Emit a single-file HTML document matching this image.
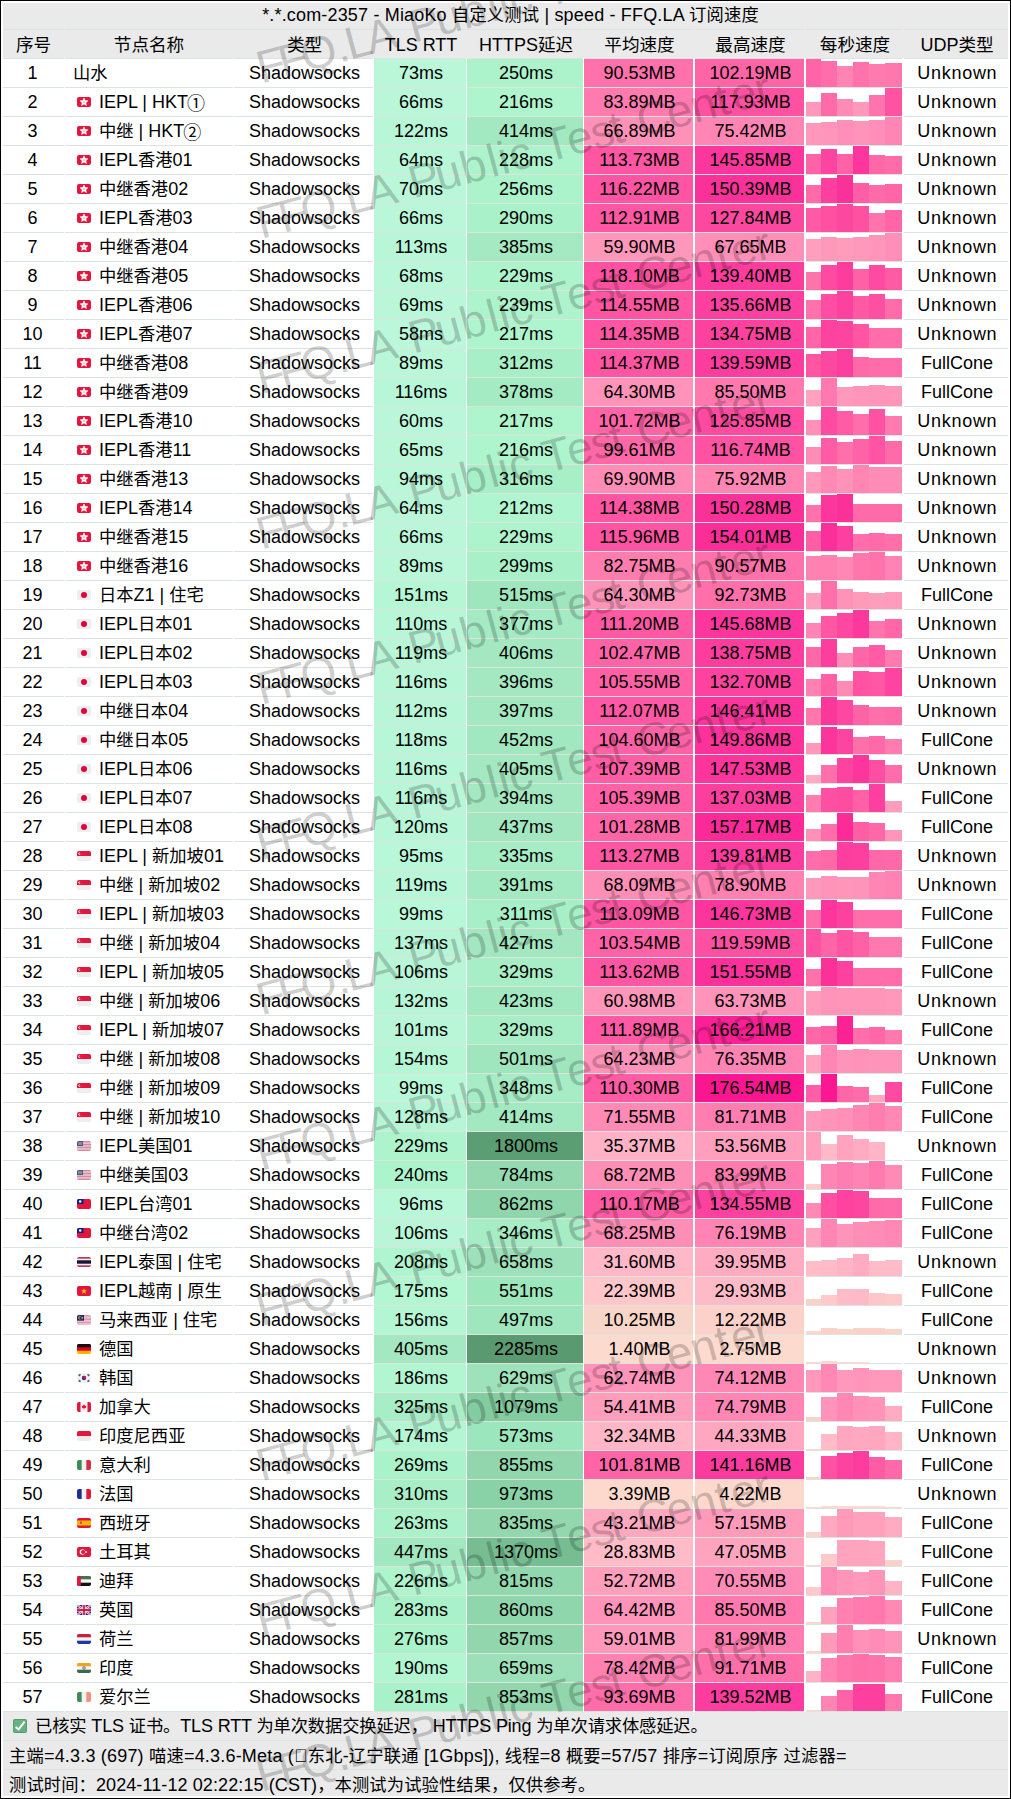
<!DOCTYPE html>
<html><head><meta charset="utf-8"><title>speed</title>
<style>
html,body{margin:0;padding:0;background:#fff}
body{width:1011px;height:1799px;position:relative;overflow:hidden;font-family:"Liberation Sans","Noto Sans CJK SC",sans-serif;font-size:18px;color:#000}
.a{position:absolute}
.t{position:absolute;white-space:nowrap;line-height:28px;height:28px;text-align:center}
.l{position:absolute;height:1px;background:#dce4dd}
.fl{position:absolute;border-radius:2px}
.c{font-size:17.3px}
.hd .c{font-size:17.6px}
.cn{font-size:18px;position:relative;top:2px;margin-left:-1px}
</style></head><body>

<div class="a" style="left:0;top:0;width:1011px;height:1799px;background:#000"></div>
<div class="a" style="left:1px;top:1px;width:1009px;height:1797px;background:#fff"></div>
<div class="a" style="left:3px;top:3px;width:1005px;height:55px;background:#eaeaea"></div>
<div class="l" style="left:3px;top:29px;width:61px"></div>
<div class="l" style="left:65px;top:29px;width:168px"></div>
<div class="l" style="left:234px;top:29px;width:139px"></div>
<div class="l" style="left:374px;top:29px;width:92px"></div>
<div class="l" style="left:467px;top:29px;width:116px"></div>
<div class="l" style="left:584px;top:29px;width:109px"></div>
<div class="l" style="left:695px;top:29px;width:109px"></div>
<div class="l" style="left:806px;top:29px;width:96px"></div>
<div class="l" style="left:904px;top:29px;width:104px"></div>
<div class="t" style="left:3px;top:1px;width:1005px;padding-left:10px;box-sizing:border-box;letter-spacing:0.17px">*.*.com-2357 - MiaoKo <span class="c">自定义测试</span> | speed - FFQ.LA <span class="c">订阅速度</span></div>
<div class="t hd" style="left:3px;top:31px;width:61px"><span class="c">序号</span></div>
<div class="t hd" style="left:65px;top:31px;width:168px"><span class="c">节点名称</span></div>
<div class="t hd" style="left:235px;top:31px;width:139px"><span class="c">类型</span></div>
<div class="t hd" style="left:375px;top:31px;width:92px">TLS RTT</div>
<div class="t hd" style="left:468px;top:31px;width:116px">HTTPS<span class="c">延迟</span></div>
<div class="t hd" style="left:585px;top:31px;width:109px"><span class="c">平均速度</span></div>
<div class="t hd" style="left:696px;top:31px;width:109px"><span class="c">最高速度</span></div>
<div class="t hd" style="left:807px;top:31px;width:96px"><span class="c">每秒速度</span></div>
<div class="t hd" style="left:905px;top:31px;width:104px">UDP<span class="c">类型</span></div>
<div class="l" style="left:3px;top:58px;width:61px"></div>
<div class="l" style="left:65px;top:58px;width:168px"></div>
<div class="l" style="left:234px;top:58px;width:139px"></div>
<div class="l" style="left:374px;top:58px;width:92px"></div>
<div class="l" style="left:467px;top:58px;width:116px"></div>
<div class="l" style="left:584px;top:58px;width:109px"></div>
<div class="l" style="left:695px;top:58px;width:109px"></div>
<div class="l" style="left:806px;top:58px;width:96px"></div>
<div class="l" style="left:904px;top:58px;width:104px"></div>
<div class="a" style="left:374px;top:59px;width:92px;height:28px;background:#baf7d9"></div>
<div class="a" style="left:467px;top:59px;width:116px;height:28px;background:#acf3cc"></div>
<div class="a" style="left:584px;top:59px;width:109px;height:28px;background:#ff71ab"></div>
<div class="a" style="left:695px;top:59px;width:109px;height:28px;background:#ff64a7"></div>
<div class="a" style="left:806px;top:59px;width:15px;height:28px;background:#ff64a7"></div>
<div class="a" style="left:821px;top:61px;width:16px;height:26px;background:#ff6daa"></div>
<div class="a" style="left:837px;top:66px;width:16px;height:21px;background:#ff84b3"></div>
<div class="a" style="left:853px;top:62px;width:16px;height:25px;background:#ff72ab"></div>
<div class="a" style="left:869px;top:64px;width:16px;height:23px;background:#ff7aae"></div>
<div class="a" style="left:885px;top:63px;width:17px;height:24px;background:#ff78ad"></div>
<div class="l" style="left:3px;top:87px;width:61px"></div>
<div class="l" style="left:65px;top:87px;width:168px"></div>
<div class="l" style="left:234px;top:87px;width:139px"></div>
<div class="l" style="left:374px;top:87px;width:92px"></div>
<div class="l" style="left:467px;top:87px;width:116px"></div>
<div class="l" style="left:584px;top:87px;width:109px"></div>
<div class="l" style="left:695px;top:87px;width:109px"></div>
<div class="l" style="left:806px;top:87px;width:96px"></div>
<div class="l" style="left:904px;top:87px;width:104px"></div>
<div class="t" style="left:2px;top:59px;width:61px">1</div>
<div class="t" style="left:73px;top:59px;text-align:left"><span class="c">山水</span></div>
<div class="t" style="left:235px;top:59px;width:139px">Shadowsocks</div>
<div class="t" style="left:375px;top:59px;width:92px">73ms</div>
<div class="t" style="left:468px;top:59px;width:116px">250ms</div>
<div class="t" style="left:585px;top:59px;width:109px">90.53MB</div>
<div class="t" style="left:696px;top:59px;width:109px">102.19MB</div>
<div class="t" style="left:905px;top:59px;width:104px;letter-spacing:0.7px;text-indent:0.7px">Unknown</div>
<div class="a" style="left:374px;top:88px;width:92px;height:28px;background:#baf7d9"></div>
<div class="a" style="left:467px;top:88px;width:116px;height:28px;background:#aef5ce"></div>
<div class="a" style="left:584px;top:88px;width:109px;height:28px;background:#ff7aaf"></div>
<div class="a" style="left:695px;top:88px;width:109px;height:28px;background:#ff51a2"></div>
<div class="a" style="left:806px;top:102px;width:15px;height:14px;background:#ff97ba"></div>
<div class="a" style="left:821px;top:93px;width:16px;height:23px;background:#ff6aa9"></div>
<div class="a" style="left:837px;top:99px;width:16px;height:17px;background:#ff8ab6"></div>
<div class="a" style="left:853px;top:102px;width:16px;height:14px;background:#ff98bb"></div>
<div class="a" style="left:869px;top:95px;width:16px;height:21px;background:#ff74ac"></div>
<div class="a" style="left:885px;top:88px;width:17px;height:28px;background:#ff52a3"></div>
<div class="l" style="left:3px;top:116px;width:61px"></div>
<div class="l" style="left:65px;top:116px;width:168px"></div>
<div class="l" style="left:234px;top:116px;width:139px"></div>
<div class="l" style="left:374px;top:116px;width:92px"></div>
<div class="l" style="left:467px;top:116px;width:116px"></div>
<div class="l" style="left:584px;top:116px;width:109px"></div>
<div class="l" style="left:695px;top:116px;width:109px"></div>
<div class="l" style="left:806px;top:116px;width:96px"></div>
<div class="l" style="left:904px;top:116px;width:104px"></div>
<div class="t" style="left:2px;top:88px;width:61px">2</div>
<div class="fl" style="left:77px;top:97px;width:14px;height:10px;overflow:hidden"><svg width="14" height="10" viewBox="0 0 14 10" style="display:block"><rect width="14" height="10" fill="#e3173e"/><polygon points="7.00,1.00 8.12,3.56 10.90,3.83 8.81,5.69 9.41,8.42 7.00,7.00 4.59,8.42 5.19,5.69 3.10,3.83 5.88,3.56" fill="#fff" stroke="#fff" stroke-width="0.6" stroke-linejoin="round"/><circle cx="7" cy="5.1" r="0.9" fill="#f4a0a0"/></svg></div>
<div class="t" style="left:99px;top:88px;text-align:left">IEPL | HKT<span class="cn">①</span></div>
<div class="t" style="left:235px;top:88px;width:139px">Shadowsocks</div>
<div class="t" style="left:375px;top:88px;width:92px">66ms</div>
<div class="t" style="left:468px;top:88px;width:116px">216ms</div>
<div class="t" style="left:585px;top:88px;width:109px">83.89MB</div>
<div class="t" style="left:696px;top:88px;width:109px">117.93MB</div>
<div class="t" style="left:905px;top:88px;width:104px;letter-spacing:0.7px;text-indent:0.7px">Unknown</div>
<div class="a" style="left:374px;top:117px;width:92px;height:28px;background:#b7f6d6"></div>
<div class="a" style="left:467px;top:117px;width:116px;height:28px;background:#a2e8c1"></div>
<div class="a" style="left:584px;top:117px;width:109px;height:28px;background:#ff90b8"></div>
<div class="a" style="left:695px;top:117px;width:109px;height:28px;background:#ff85b4"></div>
<div class="a" style="left:806px;top:123px;width:15px;height:22px;background:#ff98bb"></div>
<div class="a" style="left:821px;top:122px;width:16px;height:23px;background:#ff95ba"></div>
<div class="a" style="left:837px;top:120px;width:16px;height:25px;background:#ff8fb8"></div>
<div class="a" style="left:853px;top:121px;width:16px;height:24px;background:#ff93b9"></div>
<div class="a" style="left:869px;top:120px;width:16px;height:25px;background:#ff8fb8"></div>
<div class="a" style="left:885px;top:117px;width:17px;height:28px;background:#ff85b4"></div>
<div class="l" style="left:3px;top:145px;width:61px"></div>
<div class="l" style="left:65px;top:145px;width:168px"></div>
<div class="l" style="left:234px;top:145px;width:139px"></div>
<div class="l" style="left:374px;top:145px;width:92px"></div>
<div class="l" style="left:467px;top:145px;width:116px"></div>
<div class="l" style="left:584px;top:145px;width:109px"></div>
<div class="l" style="left:695px;top:145px;width:109px"></div>
<div class="l" style="left:806px;top:145px;width:96px"></div>
<div class="l" style="left:904px;top:145px;width:104px"></div>
<div class="t" style="left:2px;top:117px;width:61px">3</div>
<div class="fl" style="left:77px;top:126px;width:14px;height:10px;overflow:hidden"><svg width="14" height="10" viewBox="0 0 14 10" style="display:block"><rect width="14" height="10" fill="#e3173e"/><polygon points="7.00,1.00 8.12,3.56 10.90,3.83 8.81,5.69 9.41,8.42 7.00,7.00 4.59,8.42 5.19,5.69 3.10,3.83 5.88,3.56" fill="#fff" stroke="#fff" stroke-width="0.6" stroke-linejoin="round"/><circle cx="7" cy="5.1" r="0.9" fill="#f4a0a0"/></svg></div>
<div class="t" style="left:99px;top:117px;text-align:left"><span class="c">中继</span> | HKT<span class="cn">②</span></div>
<div class="t" style="left:235px;top:117px;width:139px">Shadowsocks</div>
<div class="t" style="left:375px;top:117px;width:92px">122ms</div>
<div class="t" style="left:468px;top:117px;width:116px">414ms</div>
<div class="t" style="left:585px;top:117px;width:109px">66.89MB</div>
<div class="t" style="left:696px;top:117px;width:109px">75.42MB</div>
<div class="t" style="left:905px;top:117px;width:104px;letter-spacing:0.7px;text-indent:0.7px">Unknown</div>
<div class="a" style="left:374px;top:146px;width:92px;height:28px;background:#baf7d9"></div>
<div class="a" style="left:467px;top:146px;width:116px;height:28px;background:#adf4cd"></div>
<div class="a" style="left:584px;top:146px;width:109px;height:28px;background:#ff56a3"></div>
<div class="a" style="left:695px;top:146px;width:109px;height:28px;background:#fc369c"></div>
<div class="a" style="left:806px;top:154px;width:15px;height:20px;background:#ff62a7"></div>
<div class="a" style="left:821px;top:149px;width:16px;height:25px;background:#fd44a0"></div>
<div class="a" style="left:837px;top:154px;width:16px;height:20px;background:#ff62a7"></div>
<div class="a" style="left:853px;top:146px;width:16px;height:28px;background:#fc369c"></div>
<div class="a" style="left:869px;top:155px;width:16px;height:19px;background:#ff67a8"></div>
<div class="a" style="left:885px;top:156px;width:17px;height:18px;background:#ff6ca9"></div>
<div class="l" style="left:3px;top:174px;width:61px"></div>
<div class="l" style="left:65px;top:174px;width:168px"></div>
<div class="l" style="left:234px;top:174px;width:139px"></div>
<div class="l" style="left:374px;top:174px;width:92px"></div>
<div class="l" style="left:467px;top:174px;width:116px"></div>
<div class="l" style="left:584px;top:174px;width:109px"></div>
<div class="l" style="left:695px;top:174px;width:109px"></div>
<div class="l" style="left:806px;top:174px;width:96px"></div>
<div class="l" style="left:904px;top:174px;width:104px"></div>
<div class="t" style="left:2px;top:146px;width:61px">4</div>
<div class="fl" style="left:77px;top:155px;width:14px;height:10px;overflow:hidden"><svg width="14" height="10" viewBox="0 0 14 10" style="display:block"><rect width="14" height="10" fill="#e3173e"/><polygon points="7.00,1.00 8.12,3.56 10.90,3.83 8.81,5.69 9.41,8.42 7.00,7.00 4.59,8.42 5.19,5.69 3.10,3.83 5.88,3.56" fill="#fff" stroke="#fff" stroke-width="0.6" stroke-linejoin="round"/><circle cx="7" cy="5.1" r="0.9" fill="#f4a0a0"/></svg></div>
<div class="t" style="left:99px;top:146px;text-align:left">IEPL<span class="c">香港</span>01</div>
<div class="t" style="left:235px;top:146px;width:139px">Shadowsocks</div>
<div class="t" style="left:375px;top:146px;width:92px">64ms</div>
<div class="t" style="left:468px;top:146px;width:116px">228ms</div>
<div class="t" style="left:585px;top:146px;width:109px">113.73MB</div>
<div class="t" style="left:696px;top:146px;width:109px">145.85MB</div>
<div class="t" style="left:905px;top:146px;width:104px;letter-spacing:0.7px;text-indent:0.7px">Unknown</div>
<div class="a" style="left:374px;top:175px;width:92px;height:28px;background:#baf7d9"></div>
<div class="a" style="left:467px;top:175px;width:116px;height:28px;background:#abf3cb"></div>
<div class="a" style="left:584px;top:175px;width:109px;height:28px;background:#ff53a3"></div>
<div class="a" style="left:695px;top:175px;width:109px;height:28px;background:#fb319a"></div>
<div class="a" style="left:806px;top:185px;width:15px;height:18px;background:#ff6ba9"></div>
<div class="a" style="left:821px;top:178px;width:16px;height:25px;background:#fd409f"></div>
<div class="a" style="left:837px;top:175px;width:16px;height:28px;background:#fb319a"></div>
<div class="a" style="left:853px;top:183px;width:16px;height:20px;background:#ff5ea6"></div>
<div class="a" style="left:869px;top:185px;width:16px;height:18px;background:#ff6ba9"></div>
<div class="a" style="left:885px;top:184px;width:17px;height:19px;background:#ff65a7"></div>
<div class="l" style="left:3px;top:203px;width:61px"></div>
<div class="l" style="left:65px;top:203px;width:168px"></div>
<div class="l" style="left:234px;top:203px;width:139px"></div>
<div class="l" style="left:374px;top:203px;width:92px"></div>
<div class="l" style="left:467px;top:203px;width:116px"></div>
<div class="l" style="left:584px;top:203px;width:109px"></div>
<div class="l" style="left:695px;top:203px;width:109px"></div>
<div class="l" style="left:806px;top:203px;width:96px"></div>
<div class="l" style="left:904px;top:203px;width:104px"></div>
<div class="t" style="left:2px;top:175px;width:61px">5</div>
<div class="fl" style="left:77px;top:184px;width:14px;height:10px;overflow:hidden"><svg width="14" height="10" viewBox="0 0 14 10" style="display:block"><rect width="14" height="10" fill="#e3173e"/><polygon points="7.00,1.00 8.12,3.56 10.90,3.83 8.81,5.69 9.41,8.42 7.00,7.00 4.59,8.42 5.19,5.69 3.10,3.83 5.88,3.56" fill="#fff" stroke="#fff" stroke-width="0.6" stroke-linejoin="round"/><circle cx="7" cy="5.1" r="0.9" fill="#f4a0a0"/></svg></div>
<div class="t" style="left:99px;top:175px;text-align:left"><span class="c">中继香港</span>02</div>
<div class="t" style="left:235px;top:175px;width:139px">Shadowsocks</div>
<div class="t" style="left:375px;top:175px;width:92px">70ms</div>
<div class="t" style="left:468px;top:175px;width:116px">256ms</div>
<div class="t" style="left:585px;top:175px;width:109px">116.22MB</div>
<div class="t" style="left:696px;top:175px;width:109px">150.39MB</div>
<div class="t" style="left:905px;top:175px;width:104px;letter-spacing:0.7px;text-indent:0.7px">Unknown</div>
<div class="a" style="left:374px;top:204px;width:92px;height:28px;background:#baf7d9"></div>
<div class="a" style="left:467px;top:204px;width:116px;height:28px;background:#a9f1c9"></div>
<div class="a" style="left:584px;top:204px;width:109px;height:28px;background:#ff57a4"></div>
<div class="a" style="left:695px;top:204px;width:109px;height:28px;background:#fd48a0"></div>
<div class="a" style="left:806px;top:208px;width:15px;height:24px;background:#ff5aa5"></div>
<div class="a" style="left:821px;top:206px;width:16px;height:26px;background:#ff50a2"></div>
<div class="a" style="left:837px;top:204px;width:16px;height:28px;background:#fd48a0"></div>
<div class="a" style="left:853px;top:206px;width:16px;height:26px;background:#ff51a2"></div>
<div class="a" style="left:869px;top:213px;width:16px;height:19px;background:#ff74ac"></div>
<div class="a" style="left:885px;top:210px;width:17px;height:22px;background:#ff65a7"></div>
<div class="l" style="left:3px;top:232px;width:61px"></div>
<div class="l" style="left:65px;top:232px;width:168px"></div>
<div class="l" style="left:234px;top:232px;width:139px"></div>
<div class="l" style="left:374px;top:232px;width:92px"></div>
<div class="l" style="left:467px;top:232px;width:116px"></div>
<div class="l" style="left:584px;top:232px;width:109px"></div>
<div class="l" style="left:695px;top:232px;width:109px"></div>
<div class="l" style="left:806px;top:232px;width:96px"></div>
<div class="l" style="left:904px;top:232px;width:104px"></div>
<div class="t" style="left:2px;top:204px;width:61px">6</div>
<div class="fl" style="left:77px;top:213px;width:14px;height:10px;overflow:hidden"><svg width="14" height="10" viewBox="0 0 14 10" style="display:block"><rect width="14" height="10" fill="#e3173e"/><polygon points="7.00,1.00 8.12,3.56 10.90,3.83 8.81,5.69 9.41,8.42 7.00,7.00 4.59,8.42 5.19,5.69 3.10,3.83 5.88,3.56" fill="#fff" stroke="#fff" stroke-width="0.6" stroke-linejoin="round"/><circle cx="7" cy="5.1" r="0.9" fill="#f4a0a0"/></svg></div>
<div class="t" style="left:99px;top:204px;text-align:left">IEPL<span class="c">香港</span>03</div>
<div class="t" style="left:235px;top:204px;width:139px">Shadowsocks</div>
<div class="t" style="left:375px;top:204px;width:92px">66ms</div>
<div class="t" style="left:468px;top:204px;width:116px">290ms</div>
<div class="t" style="left:585px;top:204px;width:109px">112.91MB</div>
<div class="t" style="left:696px;top:204px;width:109px">127.84MB</div>
<div class="t" style="left:905px;top:204px;width:104px;letter-spacing:0.7px;text-indent:0.7px">Unknown</div>
<div class="a" style="left:374px;top:233px;width:92px;height:28px;background:#b7f6d7"></div>
<div class="a" style="left:467px;top:233px;width:116px;height:28px;background:#a4e9c2"></div>
<div class="a" style="left:584px;top:233px;width:109px;height:28px;background:#ff97bb"></div>
<div class="a" style="left:695px;top:233px;width:109px;height:28px;background:#ff8fb8"></div>
<div class="a" style="left:806px;top:239px;width:15px;height:22px;background:#ff9ebd"></div>
<div class="a" style="left:821px;top:237px;width:16px;height:24px;background:#ff99bb"></div>
<div class="a" style="left:837px;top:238px;width:16px;height:23px;background:#ff9cbc"></div>
<div class="a" style="left:853px;top:237px;width:16px;height:24px;background:#ff99bb"></div>
<div class="a" style="left:869px;top:235px;width:16px;height:26px;background:#ff95ba"></div>
<div class="a" style="left:885px;top:233px;width:17px;height:28px;background:#ff8fb8"></div>
<div class="l" style="left:3px;top:261px;width:61px"></div>
<div class="l" style="left:65px;top:261px;width:168px"></div>
<div class="l" style="left:234px;top:261px;width:139px"></div>
<div class="l" style="left:374px;top:261px;width:92px"></div>
<div class="l" style="left:467px;top:261px;width:116px"></div>
<div class="l" style="left:584px;top:261px;width:109px"></div>
<div class="l" style="left:695px;top:261px;width:109px"></div>
<div class="l" style="left:806px;top:261px;width:96px"></div>
<div class="l" style="left:904px;top:261px;width:104px"></div>
<div class="t" style="left:2px;top:233px;width:61px">7</div>
<div class="fl" style="left:77px;top:242px;width:14px;height:10px;overflow:hidden"><svg width="14" height="10" viewBox="0 0 14 10" style="display:block"><rect width="14" height="10" fill="#e3173e"/><polygon points="7.00,1.00 8.12,3.56 10.90,3.83 8.81,5.69 9.41,8.42 7.00,7.00 4.59,8.42 5.19,5.69 3.10,3.83 5.88,3.56" fill="#fff" stroke="#fff" stroke-width="0.6" stroke-linejoin="round"/><circle cx="7" cy="5.1" r="0.9" fill="#f4a0a0"/></svg></div>
<div class="t" style="left:99px;top:233px;text-align:left"><span class="c">中继香港</span>04</div>
<div class="t" style="left:235px;top:233px;width:139px">Shadowsocks</div>
<div class="t" style="left:375px;top:233px;width:92px">113ms</div>
<div class="t" style="left:468px;top:233px;width:116px">385ms</div>
<div class="t" style="left:585px;top:233px;width:109px">59.90MB</div>
<div class="t" style="left:696px;top:233px;width:109px">67.65MB</div>
<div class="t" style="left:905px;top:233px;width:104px;letter-spacing:0.7px;text-indent:0.7px">Unknown</div>
<div class="a" style="left:374px;top:262px;width:92px;height:28px;background:#baf7d9"></div>
<div class="a" style="left:467px;top:262px;width:116px;height:28px;background:#adf4cd"></div>
<div class="a" style="left:584px;top:262px;width:109px;height:28px;background:#ff51a2"></div>
<div class="a" style="left:695px;top:262px;width:109px;height:28px;background:#fc3d9e"></div>
<div class="a" style="left:806px;top:272px;width:15px;height:18px;background:#ff73ab"></div>
<div class="a" style="left:821px;top:265px;width:16px;height:25px;background:#fe4ba1"></div>
<div class="a" style="left:837px;top:262px;width:16px;height:28px;background:#fc3d9e"></div>
<div class="a" style="left:853px;top:269px;width:16px;height:21px;background:#ff61a6"></div>
<div class="a" style="left:869px;top:265px;width:16px;height:25px;background:#fe4aa1"></div>
<div class="a" style="left:885px;top:268px;width:17px;height:22px;background:#ff5aa4"></div>
<div class="l" style="left:3px;top:290px;width:61px"></div>
<div class="l" style="left:65px;top:290px;width:168px"></div>
<div class="l" style="left:234px;top:290px;width:139px"></div>
<div class="l" style="left:374px;top:290px;width:92px"></div>
<div class="l" style="left:467px;top:290px;width:116px"></div>
<div class="l" style="left:584px;top:290px;width:109px"></div>
<div class="l" style="left:695px;top:290px;width:109px"></div>
<div class="l" style="left:806px;top:290px;width:96px"></div>
<div class="l" style="left:904px;top:290px;width:104px"></div>
<div class="t" style="left:2px;top:262px;width:61px">8</div>
<div class="fl" style="left:77px;top:271px;width:14px;height:10px;overflow:hidden"><svg width="14" height="10" viewBox="0 0 14 10" style="display:block"><rect width="14" height="10" fill="#e3173e"/><polygon points="7.00,1.00 8.12,3.56 10.90,3.83 8.81,5.69 9.41,8.42 7.00,7.00 4.59,8.42 5.19,5.69 3.10,3.83 5.88,3.56" fill="#fff" stroke="#fff" stroke-width="0.6" stroke-linejoin="round"/><circle cx="7" cy="5.1" r="0.9" fill="#f4a0a0"/></svg></div>
<div class="t" style="left:99px;top:262px;text-align:left"><span class="c">中继香港</span>05</div>
<div class="t" style="left:235px;top:262px;width:139px">Shadowsocks</div>
<div class="t" style="left:375px;top:262px;width:92px">68ms</div>
<div class="t" style="left:468px;top:262px;width:116px">229ms</div>
<div class="t" style="left:585px;top:262px;width:109px">118.10MB</div>
<div class="t" style="left:696px;top:262px;width:109px">139.40MB</div>
<div class="t" style="left:905px;top:262px;width:104px;letter-spacing:0.7px;text-indent:0.7px">Unknown</div>
<div class="a" style="left:374px;top:291px;width:92px;height:28px;background:#baf7d9"></div>
<div class="a" style="left:467px;top:291px;width:116px;height:28px;background:#adf4cd"></div>
<div class="a" style="left:584px;top:291px;width:109px;height:28px;background:#ff55a3"></div>
<div class="a" style="left:695px;top:291px;width:109px;height:28px;background:#fd409f"></div>
<div class="a" style="left:806px;top:300px;width:15px;height:19px;background:#ff71ab"></div>
<div class="a" style="left:821px;top:294px;width:16px;height:25px;background:#fe4da2"></div>
<div class="a" style="left:837px;top:291px;width:16px;height:28px;background:#fd419f"></div>
<div class="a" style="left:853px;top:296px;width:16px;height:23px;background:#ff59a4"></div>
<div class="a" style="left:869px;top:294px;width:16px;height:25px;background:#fe50a2"></div>
<div class="a" style="left:885px;top:299px;width:17px;height:20px;background:#ff6ca9"></div>
<div class="l" style="left:3px;top:319px;width:61px"></div>
<div class="l" style="left:65px;top:319px;width:168px"></div>
<div class="l" style="left:234px;top:319px;width:139px"></div>
<div class="l" style="left:374px;top:319px;width:92px"></div>
<div class="l" style="left:467px;top:319px;width:116px"></div>
<div class="l" style="left:584px;top:319px;width:109px"></div>
<div class="l" style="left:695px;top:319px;width:109px"></div>
<div class="l" style="left:806px;top:319px;width:96px"></div>
<div class="l" style="left:904px;top:319px;width:104px"></div>
<div class="t" style="left:2px;top:291px;width:61px">9</div>
<div class="fl" style="left:77px;top:300px;width:14px;height:10px;overflow:hidden"><svg width="14" height="10" viewBox="0 0 14 10" style="display:block"><rect width="14" height="10" fill="#e3173e"/><polygon points="7.00,1.00 8.12,3.56 10.90,3.83 8.81,5.69 9.41,8.42 7.00,7.00 4.59,8.42 5.19,5.69 3.10,3.83 5.88,3.56" fill="#fff" stroke="#fff" stroke-width="0.6" stroke-linejoin="round"/><circle cx="7" cy="5.1" r="0.9" fill="#f4a0a0"/></svg></div>
<div class="t" style="left:99px;top:291px;text-align:left">IEPL<span class="c">香港</span>06</div>
<div class="t" style="left:235px;top:291px;width:139px">Shadowsocks</div>
<div class="t" style="left:375px;top:291px;width:92px">69ms</div>
<div class="t" style="left:468px;top:291px;width:116px">239ms</div>
<div class="t" style="left:585px;top:291px;width:109px">114.55MB</div>
<div class="t" style="left:696px;top:291px;width:109px">135.66MB</div>
<div class="t" style="left:905px;top:291px;width:104px;letter-spacing:0.7px;text-indent:0.7px">Unknown</div>
<div class="a" style="left:374px;top:320px;width:92px;height:28px;background:#bbf7da"></div>
<div class="a" style="left:467px;top:320px;width:116px;height:28px;background:#aef5ce"></div>
<div class="a" style="left:584px;top:320px;width:109px;height:28px;background:#ff55a3"></div>
<div class="a" style="left:695px;top:320px;width:109px;height:28px;background:#fd419f"></div>
<div class="a" style="left:806px;top:327px;width:15px;height:21px;background:#ff65a7"></div>
<div class="a" style="left:821px;top:320px;width:16px;height:28px;background:#fd429f"></div>
<div class="a" style="left:837px;top:321px;width:16px;height:27px;background:#fd45a0"></div>
<div class="a" style="left:853px;top:324px;width:16px;height:24px;background:#ff55a3"></div>
<div class="a" style="left:869px;top:328px;width:16px;height:20px;background:#ff6daa"></div>
<div class="a" style="left:885px;top:328px;width:17px;height:20px;background:#ff6daa"></div>
<div class="l" style="left:3px;top:348px;width:61px"></div>
<div class="l" style="left:65px;top:348px;width:168px"></div>
<div class="l" style="left:234px;top:348px;width:139px"></div>
<div class="l" style="left:374px;top:348px;width:92px"></div>
<div class="l" style="left:467px;top:348px;width:116px"></div>
<div class="l" style="left:584px;top:348px;width:109px"></div>
<div class="l" style="left:695px;top:348px;width:109px"></div>
<div class="l" style="left:806px;top:348px;width:96px"></div>
<div class="l" style="left:904px;top:348px;width:104px"></div>
<div class="t" style="left:2px;top:320px;width:61px">10</div>
<div class="fl" style="left:77px;top:329px;width:14px;height:10px;overflow:hidden"><svg width="14" height="10" viewBox="0 0 14 10" style="display:block"><rect width="14" height="10" fill="#e3173e"/><polygon points="7.00,1.00 8.12,3.56 10.90,3.83 8.81,5.69 9.41,8.42 7.00,7.00 4.59,8.42 5.19,5.69 3.10,3.83 5.88,3.56" fill="#fff" stroke="#fff" stroke-width="0.6" stroke-linejoin="round"/><circle cx="7" cy="5.1" r="0.9" fill="#f4a0a0"/></svg></div>
<div class="t" style="left:99px;top:320px;text-align:left">IEPL<span class="c">香港</span>07</div>
<div class="t" style="left:235px;top:320px;width:139px">Shadowsocks</div>
<div class="t" style="left:375px;top:320px;width:92px">58ms</div>
<div class="t" style="left:468px;top:320px;width:116px">217ms</div>
<div class="t" style="left:585px;top:320px;width:109px">114.35MB</div>
<div class="t" style="left:696px;top:320px;width:109px">134.75MB</div>
<div class="t" style="left:905px;top:320px;width:104px;letter-spacing:0.7px;text-indent:0.7px">Unknown</div>
<div class="a" style="left:374px;top:349px;width:92px;height:28px;background:#b9f7d8"></div>
<div class="a" style="left:467px;top:349px;width:116px;height:28px;background:#a7efc7"></div>
<div class="a" style="left:584px;top:349px;width:109px;height:28px;background:#ff55a3"></div>
<div class="a" style="left:695px;top:349px;width:109px;height:28px;background:#fc3c9e"></div>
<div class="a" style="left:806px;top:354px;width:15px;height:23px;background:#ff55a3"></div>
<div class="a" style="left:821px;top:351px;width:16px;height:26px;background:#fd47a0"></div>
<div class="a" style="left:837px;top:349px;width:16px;height:28px;background:#fc3e9e"></div>
<div class="a" style="left:853px;top:357px;width:16px;height:20px;background:#ff69a8"></div>
<div class="a" style="left:869px;top:358px;width:16px;height:19px;background:#ff6ca9"></div>
<div class="a" style="left:885px;top:358px;width:17px;height:19px;background:#ff6ca9"></div>
<div class="l" style="left:3px;top:377px;width:61px"></div>
<div class="l" style="left:65px;top:377px;width:168px"></div>
<div class="l" style="left:234px;top:377px;width:139px"></div>
<div class="l" style="left:374px;top:377px;width:92px"></div>
<div class="l" style="left:467px;top:377px;width:116px"></div>
<div class="l" style="left:584px;top:377px;width:109px"></div>
<div class="l" style="left:695px;top:377px;width:109px"></div>
<div class="l" style="left:806px;top:377px;width:96px"></div>
<div class="l" style="left:904px;top:377px;width:104px"></div>
<div class="t" style="left:2px;top:349px;width:61px">11</div>
<div class="fl" style="left:77px;top:358px;width:14px;height:10px;overflow:hidden"><svg width="14" height="10" viewBox="0 0 14 10" style="display:block"><rect width="14" height="10" fill="#e3173e"/><polygon points="7.00,1.00 8.12,3.56 10.90,3.83 8.81,5.69 9.41,8.42 7.00,7.00 4.59,8.42 5.19,5.69 3.10,3.83 5.88,3.56" fill="#fff" stroke="#fff" stroke-width="0.6" stroke-linejoin="round"/><circle cx="7" cy="5.1" r="0.9" fill="#f4a0a0"/></svg></div>
<div class="t" style="left:99px;top:349px;text-align:left"><span class="c">中继香港</span>08</div>
<div class="t" style="left:235px;top:349px;width:139px">Shadowsocks</div>
<div class="t" style="left:375px;top:349px;width:92px">89ms</div>
<div class="t" style="left:468px;top:349px;width:116px">312ms</div>
<div class="t" style="left:585px;top:349px;width:109px">114.37MB</div>
<div class="t" style="left:696px;top:349px;width:109px">139.59MB</div>
<div class="t" style="left:905px;top:349px;width:104px">FullCone</div>
<div class="a" style="left:374px;top:378px;width:92px;height:28px;background:#b7f6d7"></div>
<div class="a" style="left:467px;top:378px;width:116px;height:28px;background:#a4eac3"></div>
<div class="a" style="left:584px;top:378px;width:109px;height:28px;background:#ff93b9"></div>
<div class="a" style="left:695px;top:378px;width:109px;height:28px;background:#ff78ae"></div>
<div class="a" style="left:806px;top:390px;width:15px;height:16px;background:#ffa2be"></div>
<div class="a" style="left:821px;top:378px;width:16px;height:28px;background:#ff79ae"></div>
<div class="a" style="left:837px;top:387px;width:16px;height:19px;background:#ff99bb"></div>
<div class="a" style="left:853px;top:386px;width:16px;height:20px;background:#ff96ba"></div>
<div class="a" style="left:869px;top:385px;width:16px;height:21px;background:#ff94ba"></div>
<div class="a" style="left:885px;top:386px;width:17px;height:20px;background:#ff96ba"></div>
<div class="l" style="left:3px;top:406px;width:61px"></div>
<div class="l" style="left:65px;top:406px;width:168px"></div>
<div class="l" style="left:234px;top:406px;width:139px"></div>
<div class="l" style="left:374px;top:406px;width:92px"></div>
<div class="l" style="left:467px;top:406px;width:116px"></div>
<div class="l" style="left:584px;top:406px;width:109px"></div>
<div class="l" style="left:695px;top:406px;width:109px"></div>
<div class="l" style="left:806px;top:406px;width:96px"></div>
<div class="l" style="left:904px;top:406px;width:104px"></div>
<div class="t" style="left:2px;top:378px;width:61px">12</div>
<div class="fl" style="left:77px;top:387px;width:14px;height:10px;overflow:hidden"><svg width="14" height="10" viewBox="0 0 14 10" style="display:block"><rect width="14" height="10" fill="#e3173e"/><polygon points="7.00,1.00 8.12,3.56 10.90,3.83 8.81,5.69 9.41,8.42 7.00,7.00 4.59,8.42 5.19,5.69 3.10,3.83 5.88,3.56" fill="#fff" stroke="#fff" stroke-width="0.6" stroke-linejoin="round"/><circle cx="7" cy="5.1" r="0.9" fill="#f4a0a0"/></svg></div>
<div class="t" style="left:99px;top:378px;text-align:left"><span class="c">中继香港</span>09</div>
<div class="t" style="left:235px;top:378px;width:139px">Shadowsocks</div>
<div class="t" style="left:375px;top:378px;width:92px">116ms</div>
<div class="t" style="left:468px;top:378px;width:116px">378ms</div>
<div class="t" style="left:585px;top:378px;width:109px">64.30MB</div>
<div class="t" style="left:696px;top:378px;width:109px">85.50MB</div>
<div class="t" style="left:905px;top:378px;width:104px">FullCone</div>
<div class="a" style="left:374px;top:407px;width:92px;height:28px;background:#baf7da"></div>
<div class="a" style="left:467px;top:407px;width:116px;height:28px;background:#aef5ce"></div>
<div class="a" style="left:584px;top:407px;width:109px;height:28px;background:#ff64a7"></div>
<div class="a" style="left:695px;top:407px;width:109px;height:28px;background:#fe4aa1"></div>
<div class="a" style="left:806px;top:420px;width:15px;height:15px;background:#ff91b9"></div>
<div class="a" style="left:821px;top:407px;width:16px;height:28px;background:#fe4ba1"></div>
<div class="a" style="left:837px;top:411px;width:16px;height:24px;background:#ff5ca5"></div>
<div class="a" style="left:853px;top:414px;width:16px;height:21px;background:#ff6eaa"></div>
<div class="a" style="left:869px;top:409px;width:16px;height:26px;background:#ff52a3"></div>
<div class="a" style="left:885px;top:416px;width:17px;height:19px;background:#ff7aae"></div>
<div class="l" style="left:3px;top:435px;width:61px"></div>
<div class="l" style="left:65px;top:435px;width:168px"></div>
<div class="l" style="left:234px;top:435px;width:139px"></div>
<div class="l" style="left:374px;top:435px;width:92px"></div>
<div class="l" style="left:467px;top:435px;width:116px"></div>
<div class="l" style="left:584px;top:435px;width:109px"></div>
<div class="l" style="left:695px;top:435px;width:109px"></div>
<div class="l" style="left:806px;top:435px;width:96px"></div>
<div class="l" style="left:904px;top:435px;width:104px"></div>
<div class="t" style="left:2px;top:407px;width:61px">13</div>
<div class="fl" style="left:77px;top:416px;width:14px;height:10px;overflow:hidden"><svg width="14" height="10" viewBox="0 0 14 10" style="display:block"><rect width="14" height="10" fill="#e3173e"/><polygon points="7.00,1.00 8.12,3.56 10.90,3.83 8.81,5.69 9.41,8.42 7.00,7.00 4.59,8.42 5.19,5.69 3.10,3.83 5.88,3.56" fill="#fff" stroke="#fff" stroke-width="0.6" stroke-linejoin="round"/><circle cx="7" cy="5.1" r="0.9" fill="#f4a0a0"/></svg></div>
<div class="t" style="left:99px;top:407px;text-align:left">IEPL<span class="c">香港</span>10</div>
<div class="t" style="left:235px;top:407px;width:139px">Shadowsocks</div>
<div class="t" style="left:375px;top:407px;width:92px">60ms</div>
<div class="t" style="left:468px;top:407px;width:116px">217ms</div>
<div class="t" style="left:585px;top:407px;width:109px">101.72MB</div>
<div class="t" style="left:696px;top:407px;width:109px">125.85MB</div>
<div class="t" style="left:905px;top:407px;width:104px;letter-spacing:0.7px;text-indent:0.7px">Unknown</div>
<div class="a" style="left:374px;top:436px;width:92px;height:28px;background:#baf7d9"></div>
<div class="a" style="left:467px;top:436px;width:116px;height:28px;background:#aef5ce"></div>
<div class="a" style="left:584px;top:436px;width:109px;height:28px;background:#ff67a8"></div>
<div class="a" style="left:695px;top:436px;width:109px;height:28px;background:#ff52a3"></div>
<div class="a" style="left:806px;top:447px;width:15px;height:17px;background:#ff8cb6"></div>
<div class="a" style="left:821px;top:438px;width:16px;height:26px;background:#ff5ca5"></div>
<div class="a" style="left:837px;top:442px;width:16px;height:22px;background:#ff6faa"></div>
<div class="a" style="left:853px;top:439px;width:16px;height:25px;background:#ff63a7"></div>
<div class="a" style="left:869px;top:436px;width:16px;height:28px;background:#ff53a3"></div>
<div class="a" style="left:885px;top:441px;width:17px;height:23px;background:#ff6ba9"></div>
<div class="l" style="left:3px;top:464px;width:61px"></div>
<div class="l" style="left:65px;top:464px;width:168px"></div>
<div class="l" style="left:234px;top:464px;width:139px"></div>
<div class="l" style="left:374px;top:464px;width:92px"></div>
<div class="l" style="left:467px;top:464px;width:116px"></div>
<div class="l" style="left:584px;top:464px;width:109px"></div>
<div class="l" style="left:695px;top:464px;width:109px"></div>
<div class="l" style="left:806px;top:464px;width:96px"></div>
<div class="l" style="left:904px;top:464px;width:104px"></div>
<div class="t" style="left:2px;top:436px;width:61px">14</div>
<div class="fl" style="left:77px;top:445px;width:14px;height:10px;overflow:hidden"><svg width="14" height="10" viewBox="0 0 14 10" style="display:block"><rect width="14" height="10" fill="#e3173e"/><polygon points="7.00,1.00 8.12,3.56 10.90,3.83 8.81,5.69 9.41,8.42 7.00,7.00 4.59,8.42 5.19,5.69 3.10,3.83 5.88,3.56" fill="#fff" stroke="#fff" stroke-width="0.6" stroke-linejoin="round"/><circle cx="7" cy="5.1" r="0.9" fill="#f4a0a0"/></svg></div>
<div class="t" style="left:99px;top:436px;text-align:left">IEPL<span class="c">香港</span>11</div>
<div class="t" style="left:235px;top:436px;width:139px">Shadowsocks</div>
<div class="t" style="left:375px;top:436px;width:92px">65ms</div>
<div class="t" style="left:468px;top:436px;width:116px">216ms</div>
<div class="t" style="left:585px;top:436px;width:109px">99.61MB</div>
<div class="t" style="left:696px;top:436px;width:109px">116.74MB</div>
<div class="t" style="left:905px;top:436px;width:104px;letter-spacing:0.7px;text-indent:0.7px">Unknown</div>
<div class="a" style="left:374px;top:465px;width:92px;height:28px;background:#b8f7d8"></div>
<div class="a" style="left:467px;top:465px;width:116px;height:28px;background:#a7efc7"></div>
<div class="a" style="left:584px;top:465px;width:109px;height:28px;background:#ff8cb7"></div>
<div class="a" style="left:695px;top:465px;width:109px;height:28px;background:#ff85b3"></div>
<div class="a" style="left:806px;top:472px;width:15px;height:21px;background:#ff99bb"></div>
<div class="a" style="left:821px;top:466px;width:16px;height:27px;background:#ff89b5"></div>
<div class="a" style="left:837px;top:469px;width:16px;height:24px;background:#ff92b9"></div>
<div class="a" style="left:853px;top:465px;width:16px;height:28px;background:#ff85b3"></div>
<div class="a" style="left:869px;top:467px;width:16px;height:26px;background:#ff8cb7"></div>
<div class="a" style="left:885px;top:467px;width:17px;height:26px;background:#ff8cb7"></div>
<div class="l" style="left:3px;top:493px;width:61px"></div>
<div class="l" style="left:65px;top:493px;width:168px"></div>
<div class="l" style="left:234px;top:493px;width:139px"></div>
<div class="l" style="left:374px;top:493px;width:92px"></div>
<div class="l" style="left:467px;top:493px;width:116px"></div>
<div class="l" style="left:584px;top:493px;width:109px"></div>
<div class="l" style="left:695px;top:493px;width:109px"></div>
<div class="l" style="left:806px;top:493px;width:96px"></div>
<div class="l" style="left:904px;top:493px;width:104px"></div>
<div class="t" style="left:2px;top:465px;width:61px">15</div>
<div class="fl" style="left:77px;top:474px;width:14px;height:10px;overflow:hidden"><svg width="14" height="10" viewBox="0 0 14 10" style="display:block"><rect width="14" height="10" fill="#e3173e"/><polygon points="7.00,1.00 8.12,3.56 10.90,3.83 8.81,5.69 9.41,8.42 7.00,7.00 4.59,8.42 5.19,5.69 3.10,3.83 5.88,3.56" fill="#fff" stroke="#fff" stroke-width="0.6" stroke-linejoin="round"/><circle cx="7" cy="5.1" r="0.9" fill="#f4a0a0"/></svg></div>
<div class="t" style="left:99px;top:465px;text-align:left"><span class="c">中继香港</span>13</div>
<div class="t" style="left:235px;top:465px;width:139px">Shadowsocks</div>
<div class="t" style="left:375px;top:465px;width:92px">94ms</div>
<div class="t" style="left:468px;top:465px;width:116px">316ms</div>
<div class="t" style="left:585px;top:465px;width:109px">69.90MB</div>
<div class="t" style="left:696px;top:465px;width:109px">75.92MB</div>
<div class="t" style="left:905px;top:465px;width:104px;letter-spacing:0.7px;text-indent:0.7px">Unknown</div>
<div class="a" style="left:374px;top:494px;width:92px;height:28px;background:#baf7d9"></div>
<div class="a" style="left:467px;top:494px;width:116px;height:28px;background:#aff5cf"></div>
<div class="a" style="left:584px;top:494px;width:109px;height:28px;background:#ff55a3"></div>
<div class="a" style="left:695px;top:494px;width:109px;height:28px;background:#fb319a"></div>
<div class="a" style="left:806px;top:505px;width:15px;height:17px;background:#ff72ab"></div>
<div class="a" style="left:821px;top:495px;width:16px;height:27px;background:#fc369c"></div>
<div class="a" style="left:837px;top:494px;width:16px;height:28px;background:#fb319a"></div>
<div class="a" style="left:853px;top:504px;width:16px;height:18px;background:#ff6ba9"></div>
<div class="a" style="left:869px;top:504px;width:16px;height:18px;background:#ff6ba9"></div>
<div class="a" style="left:885px;top:504px;width:17px;height:18px;background:#ff6ba9"></div>
<div class="l" style="left:3px;top:522px;width:61px"></div>
<div class="l" style="left:65px;top:522px;width:168px"></div>
<div class="l" style="left:234px;top:522px;width:139px"></div>
<div class="l" style="left:374px;top:522px;width:92px"></div>
<div class="l" style="left:467px;top:522px;width:116px"></div>
<div class="l" style="left:584px;top:522px;width:109px"></div>
<div class="l" style="left:695px;top:522px;width:109px"></div>
<div class="l" style="left:806px;top:522px;width:96px"></div>
<div class="l" style="left:904px;top:522px;width:104px"></div>
<div class="t" style="left:2px;top:494px;width:61px">16</div>
<div class="fl" style="left:77px;top:503px;width:14px;height:10px;overflow:hidden"><svg width="14" height="10" viewBox="0 0 14 10" style="display:block"><rect width="14" height="10" fill="#e3173e"/><polygon points="7.00,1.00 8.12,3.56 10.90,3.83 8.81,5.69 9.41,8.42 7.00,7.00 4.59,8.42 5.19,5.69 3.10,3.83 5.88,3.56" fill="#fff" stroke="#fff" stroke-width="0.6" stroke-linejoin="round"/><circle cx="7" cy="5.1" r="0.9" fill="#f4a0a0"/></svg></div>
<div class="t" style="left:99px;top:494px;text-align:left">IEPL<span class="c">香港</span>14</div>
<div class="t" style="left:235px;top:494px;width:139px">Shadowsocks</div>
<div class="t" style="left:375px;top:494px;width:92px">64ms</div>
<div class="t" style="left:468px;top:494px;width:116px">212ms</div>
<div class="t" style="left:585px;top:494px;width:109px">114.38MB</div>
<div class="t" style="left:696px;top:494px;width:109px">150.28MB</div>
<div class="t" style="left:905px;top:494px;width:104px;letter-spacing:0.7px;text-indent:0.7px">Unknown</div>
<div class="a" style="left:374px;top:523px;width:92px;height:28px;background:#baf7d9"></div>
<div class="a" style="left:467px;top:523px;width:116px;height:28px;background:#adf4cd"></div>
<div class="a" style="left:584px;top:523px;width:109px;height:28px;background:#ff53a3"></div>
<div class="a" style="left:695px;top:523px;width:109px;height:28px;background:#fb2d99"></div>
<div class="a" style="left:806px;top:531px;width:15px;height:20px;background:#ff5da5"></div>
<div class="a" style="left:821px;top:523px;width:16px;height:28px;background:#fb2f99"></div>
<div class="a" style="left:837px;top:526px;width:16px;height:25px;background:#fd409f"></div>
<div class="a" style="left:853px;top:534px;width:16px;height:17px;background:#ff6daa"></div>
<div class="a" style="left:869px;top:533px;width:16px;height:18px;background:#ff6aa9"></div>
<div class="a" style="left:885px;top:534px;width:17px;height:17px;background:#ff6faa"></div>
<div class="l" style="left:3px;top:551px;width:61px"></div>
<div class="l" style="left:65px;top:551px;width:168px"></div>
<div class="l" style="left:234px;top:551px;width:139px"></div>
<div class="l" style="left:374px;top:551px;width:92px"></div>
<div class="l" style="left:467px;top:551px;width:116px"></div>
<div class="l" style="left:584px;top:551px;width:109px"></div>
<div class="l" style="left:695px;top:551px;width:109px"></div>
<div class="l" style="left:806px;top:551px;width:96px"></div>
<div class="l" style="left:904px;top:551px;width:104px"></div>
<div class="t" style="left:2px;top:523px;width:61px">17</div>
<div class="fl" style="left:77px;top:532px;width:14px;height:10px;overflow:hidden"><svg width="14" height="10" viewBox="0 0 14 10" style="display:block"><rect width="14" height="10" fill="#e3173e"/><polygon points="7.00,1.00 8.12,3.56 10.90,3.83 8.81,5.69 9.41,8.42 7.00,7.00 4.59,8.42 5.19,5.69 3.10,3.83 5.88,3.56" fill="#fff" stroke="#fff" stroke-width="0.6" stroke-linejoin="round"/><circle cx="7" cy="5.1" r="0.9" fill="#f4a0a0"/></svg></div>
<div class="t" style="left:99px;top:523px;text-align:left"><span class="c">中继香港</span>15</div>
<div class="t" style="left:235px;top:523px;width:139px">Shadowsocks</div>
<div class="t" style="left:375px;top:523px;width:92px">66ms</div>
<div class="t" style="left:468px;top:523px;width:116px">229ms</div>
<div class="t" style="left:585px;top:523px;width:109px">115.96MB</div>
<div class="t" style="left:696px;top:523px;width:109px">154.01MB</div>
<div class="t" style="left:905px;top:523px;width:104px;letter-spacing:0.7px;text-indent:0.7px">Unknown</div>
<div class="a" style="left:374px;top:552px;width:92px;height:28px;background:#b9f7d8"></div>
<div class="a" style="left:467px;top:552px;width:116px;height:28px;background:#a8f0c8"></div>
<div class="a" style="left:584px;top:552px;width:109px;height:28px;background:#ff7caf"></div>
<div class="a" style="left:695px;top:552px;width:109px;height:28px;background:#ff71ab"></div>
<div class="a" style="left:806px;top:556px;width:15px;height:24px;background:#ff82b2"></div>
<div class="a" style="left:821px;top:555px;width:16px;height:25px;background:#ff80b1"></div>
<div class="a" style="left:837px;top:557px;width:16px;height:23px;background:#ff87b4"></div>
<div class="a" style="left:853px;top:553px;width:16px;height:27px;background:#ff76ad"></div>
<div class="a" style="left:869px;top:552px;width:16px;height:28px;background:#ff72ab"></div>
<div class="a" style="left:885px;top:556px;width:17px;height:24px;background:#ff83b3"></div>
<div class="l" style="left:3px;top:580px;width:61px"></div>
<div class="l" style="left:65px;top:580px;width:168px"></div>
<div class="l" style="left:234px;top:580px;width:139px"></div>
<div class="l" style="left:374px;top:580px;width:92px"></div>
<div class="l" style="left:467px;top:580px;width:116px"></div>
<div class="l" style="left:584px;top:580px;width:109px"></div>
<div class="l" style="left:695px;top:580px;width:109px"></div>
<div class="l" style="left:806px;top:580px;width:96px"></div>
<div class="l" style="left:904px;top:580px;width:104px"></div>
<div class="t" style="left:2px;top:552px;width:61px">18</div>
<div class="fl" style="left:77px;top:561px;width:14px;height:10px;overflow:hidden"><svg width="14" height="10" viewBox="0 0 14 10" style="display:block"><rect width="14" height="10" fill="#e3173e"/><polygon points="7.00,1.00 8.12,3.56 10.90,3.83 8.81,5.69 9.41,8.42 7.00,7.00 4.59,8.42 5.19,5.69 3.10,3.83 5.88,3.56" fill="#fff" stroke="#fff" stroke-width="0.6" stroke-linejoin="round"/><circle cx="7" cy="5.1" r="0.9" fill="#f4a0a0"/></svg></div>
<div class="t" style="left:99px;top:552px;text-align:left"><span class="c">中继香港</span>16</div>
<div class="t" style="left:235px;top:552px;width:139px">Shadowsocks</div>
<div class="t" style="left:375px;top:552px;width:92px">89ms</div>
<div class="t" style="left:468px;top:552px;width:116px">299ms</div>
<div class="t" style="left:585px;top:552px;width:109px">82.75MB</div>
<div class="t" style="left:696px;top:552px;width:109px">90.57MB</div>
<div class="t" style="left:905px;top:552px;width:104px;letter-spacing:0.7px;text-indent:0.7px">Unknown</div>
<div class="a" style="left:374px;top:581px;width:92px;height:28px;background:#b5f6d5"></div>
<div class="a" style="left:467px;top:581px;width:116px;height:28px;background:#9ee6be"></div>
<div class="a" style="left:584px;top:581px;width:109px;height:28px;background:#ff93b9"></div>
<div class="a" style="left:695px;top:581px;width:109px;height:28px;background:#ff6faa"></div>
<div class="a" style="left:806px;top:593px;width:15px;height:16px;background:#ff9fbd"></div>
<div class="a" style="left:821px;top:581px;width:16px;height:28px;background:#ff70aa"></div>
<div class="a" style="left:837px;top:589px;width:16px;height:20px;background:#ff92b9"></div>
<div class="a" style="left:853px;top:592px;width:16px;height:17px;background:#ff9abb"></div>
<div class="a" style="left:869px;top:593px;width:16px;height:16px;background:#ff9dbc"></div>
<div class="a" style="left:885px;top:592px;width:17px;height:17px;background:#ff9bbc"></div>
<div class="l" style="left:3px;top:609px;width:61px"></div>
<div class="l" style="left:65px;top:609px;width:168px"></div>
<div class="l" style="left:234px;top:609px;width:139px"></div>
<div class="l" style="left:374px;top:609px;width:92px"></div>
<div class="l" style="left:467px;top:609px;width:116px"></div>
<div class="l" style="left:584px;top:609px;width:109px"></div>
<div class="l" style="left:695px;top:609px;width:109px"></div>
<div class="l" style="left:806px;top:609px;width:96px"></div>
<div class="l" style="left:904px;top:609px;width:104px"></div>
<div class="t" style="left:2px;top:581px;width:61px">19</div>
<div class="fl" style="left:77px;top:590px;width:14px;height:10px;overflow:hidden"><svg width="14" height="10" viewBox="0 0 14 10" style="display:block"><rect width="14" height="10" fill="#eeeeee"/><circle cx="7" cy="5" r="3" fill="#e3003c"/></svg></div>
<div class="t" style="left:99px;top:581px;text-align:left"><span class="c">日本</span>Z1 | <span class="c">住宅</span></div>
<div class="t" style="left:235px;top:581px;width:139px">Shadowsocks</div>
<div class="t" style="left:375px;top:581px;width:92px">151ms</div>
<div class="t" style="left:468px;top:581px;width:116px">515ms</div>
<div class="t" style="left:585px;top:581px;width:109px">64.30MB</div>
<div class="t" style="left:696px;top:581px;width:109px">92.73MB</div>
<div class="t" style="left:905px;top:581px;width:104px">FullCone</div>
<div class="a" style="left:374px;top:610px;width:92px;height:28px;background:#b7f6d7"></div>
<div class="a" style="left:467px;top:610px;width:116px;height:28px;background:#a4eac3"></div>
<div class="a" style="left:584px;top:610px;width:109px;height:28px;background:#ff59a4"></div>
<div class="a" style="left:695px;top:610px;width:109px;height:28px;background:#fc369c"></div>
<div class="a" style="left:806px;top:623px;width:15px;height:15px;background:#ff85b4"></div>
<div class="a" style="left:821px;top:616px;width:16px;height:22px;background:#ff57a4"></div>
<div class="a" style="left:837px;top:613px;width:16px;height:25px;background:#fd47a0"></div>
<div class="a" style="left:853px;top:610px;width:16px;height:28px;background:#fc389c"></div>
<div class="a" style="left:869px;top:621px;width:16px;height:17px;background:#ff74ac"></div>
<div class="a" style="left:885px;top:619px;width:17px;height:19px;background:#ff67a8"></div>
<div class="l" style="left:3px;top:638px;width:61px"></div>
<div class="l" style="left:65px;top:638px;width:168px"></div>
<div class="l" style="left:234px;top:638px;width:139px"></div>
<div class="l" style="left:374px;top:638px;width:92px"></div>
<div class="l" style="left:467px;top:638px;width:116px"></div>
<div class="l" style="left:584px;top:638px;width:109px"></div>
<div class="l" style="left:695px;top:638px;width:109px"></div>
<div class="l" style="left:806px;top:638px;width:96px"></div>
<div class="l" style="left:904px;top:638px;width:104px"></div>
<div class="t" style="left:2px;top:610px;width:61px">20</div>
<div class="fl" style="left:77px;top:619px;width:14px;height:10px;overflow:hidden"><svg width="14" height="10" viewBox="0 0 14 10" style="display:block"><rect width="14" height="10" fill="#eeeeee"/><circle cx="7" cy="5" r="3" fill="#e3003c"/></svg></div>
<div class="t" style="left:99px;top:610px;text-align:left">IEPL<span class="c">日本</span>01</div>
<div class="t" style="left:235px;top:610px;width:139px">Shadowsocks</div>
<div class="t" style="left:375px;top:610px;width:92px">110ms</div>
<div class="t" style="left:468px;top:610px;width:116px">377ms</div>
<div class="t" style="left:585px;top:610px;width:109px">111.20MB</div>
<div class="t" style="left:696px;top:610px;width:109px">145.68MB</div>
<div class="t" style="left:905px;top:610px;width:104px;letter-spacing:0.7px;text-indent:0.7px">Unknown</div>
<div class="a" style="left:374px;top:639px;width:92px;height:28px;background:#b7f6d7"></div>
<div class="a" style="left:467px;top:639px;width:116px;height:28px;background:#a3e8c1"></div>
<div class="a" style="left:584px;top:639px;width:109px;height:28px;background:#ff63a7"></div>
<div class="a" style="left:695px;top:639px;width:109px;height:28px;background:#fc3d9e"></div>
<div class="a" style="left:806px;top:647px;width:15px;height:20px;background:#ff68a8"></div>
<div class="a" style="left:821px;top:639px;width:16px;height:28px;background:#fc3f9f"></div>
<div class="a" style="left:837px;top:653px;width:16px;height:14px;background:#ff8db7"></div>
<div class="a" style="left:853px;top:647px;width:16px;height:20px;background:#ff66a8"></div>
<div class="a" style="left:869px;top:645px;width:16px;height:22px;background:#ff5ca5"></div>
<div class="a" style="left:885px;top:650px;width:17px;height:17px;background:#ff7baf"></div>
<div class="l" style="left:3px;top:667px;width:61px"></div>
<div class="l" style="left:65px;top:667px;width:168px"></div>
<div class="l" style="left:234px;top:667px;width:139px"></div>
<div class="l" style="left:374px;top:667px;width:92px"></div>
<div class="l" style="left:467px;top:667px;width:116px"></div>
<div class="l" style="left:584px;top:667px;width:109px"></div>
<div class="l" style="left:695px;top:667px;width:109px"></div>
<div class="l" style="left:806px;top:667px;width:96px"></div>
<div class="l" style="left:904px;top:667px;width:104px"></div>
<div class="t" style="left:2px;top:639px;width:61px">21</div>
<div class="fl" style="left:77px;top:648px;width:14px;height:10px;overflow:hidden"><svg width="14" height="10" viewBox="0 0 14 10" style="display:block"><rect width="14" height="10" fill="#eeeeee"/><circle cx="7" cy="5" r="3" fill="#e3003c"/></svg></div>
<div class="t" style="left:99px;top:639px;text-align:left">IEPL<span class="c">日本</span>02</div>
<div class="t" style="left:235px;top:639px;width:139px">Shadowsocks</div>
<div class="t" style="left:375px;top:639px;width:92px">119ms</div>
<div class="t" style="left:468px;top:639px;width:116px">406ms</div>
<div class="t" style="left:585px;top:639px;width:109px">102.47MB</div>
<div class="t" style="left:696px;top:639px;width:109px">138.75MB</div>
<div class="t" style="left:905px;top:639px;width:104px;letter-spacing:0.7px;text-indent:0.7px">Unknown</div>
<div class="a" style="left:374px;top:668px;width:92px;height:28px;background:#b7f6d7"></div>
<div class="a" style="left:467px;top:668px;width:116px;height:28px;background:#a3e8c1"></div>
<div class="a" style="left:584px;top:668px;width:109px;height:28px;background:#ff60a6"></div>
<div class="a" style="left:695px;top:668px;width:109px;height:28px;background:#fd439f"></div>
<div class="a" style="left:806px;top:679px;width:15px;height:17px;background:#ff80b1"></div>
<div class="a" style="left:821px;top:674px;width:16px;height:22px;background:#ff61a6"></div>
<div class="a" style="left:837px;top:681px;width:16px;height:15px;background:#ff8ab6"></div>
<div class="a" style="left:853px;top:671px;width:16px;height:25px;background:#ff52a3"></div>
<div class="a" style="left:869px;top:672px;width:16px;height:24px;background:#ff57a4"></div>
<div class="a" style="left:885px;top:668px;width:17px;height:28px;background:#fd44a0"></div>
<div class="l" style="left:3px;top:696px;width:61px"></div>
<div class="l" style="left:65px;top:696px;width:168px"></div>
<div class="l" style="left:234px;top:696px;width:139px"></div>
<div class="l" style="left:374px;top:696px;width:92px"></div>
<div class="l" style="left:467px;top:696px;width:116px"></div>
<div class="l" style="left:584px;top:696px;width:109px"></div>
<div class="l" style="left:695px;top:696px;width:109px"></div>
<div class="l" style="left:806px;top:696px;width:96px"></div>
<div class="l" style="left:904px;top:696px;width:104px"></div>
<div class="t" style="left:2px;top:668px;width:61px">22</div>
<div class="fl" style="left:77px;top:677px;width:14px;height:10px;overflow:hidden"><svg width="14" height="10" viewBox="0 0 14 10" style="display:block"><rect width="14" height="10" fill="#eeeeee"/><circle cx="7" cy="5" r="3" fill="#e3003c"/></svg></div>
<div class="t" style="left:99px;top:668px;text-align:left">IEPL<span class="c">日本</span>03</div>
<div class="t" style="left:235px;top:668px;width:139px">Shadowsocks</div>
<div class="t" style="left:375px;top:668px;width:92px">116ms</div>
<div class="t" style="left:468px;top:668px;width:116px">396ms</div>
<div class="t" style="left:585px;top:668px;width:109px">105.55MB</div>
<div class="t" style="left:696px;top:668px;width:109px">132.70MB</div>
<div class="t" style="left:905px;top:668px;width:104px;letter-spacing:0.7px;text-indent:0.7px">Unknown</div>
<div class="a" style="left:374px;top:697px;width:92px;height:28px;background:#b7f6d7"></div>
<div class="a" style="left:467px;top:697px;width:116px;height:28px;background:#a3e8c1"></div>
<div class="a" style="left:584px;top:697px;width:109px;height:28px;background:#ff58a4"></div>
<div class="a" style="left:695px;top:697px;width:109px;height:28px;background:#fc359c"></div>
<div class="a" style="left:806px;top:708px;width:15px;height:17px;background:#ff77ad"></div>
<div class="a" style="left:821px;top:697px;width:16px;height:28px;background:#fc379c"></div>
<div class="a" style="left:837px;top:700px;width:16px;height:25px;background:#fd47a0"></div>
<div class="a" style="left:853px;top:705px;width:16px;height:20px;background:#ff63a7"></div>
<div class="a" style="left:869px;top:707px;width:16px;height:18px;background:#ff6faa"></div>
<div class="a" style="left:885px;top:707px;width:17px;height:18px;background:#ff6aa9"></div>
<div class="l" style="left:3px;top:725px;width:61px"></div>
<div class="l" style="left:65px;top:725px;width:168px"></div>
<div class="l" style="left:234px;top:725px;width:139px"></div>
<div class="l" style="left:374px;top:725px;width:92px"></div>
<div class="l" style="left:467px;top:725px;width:116px"></div>
<div class="l" style="left:584px;top:725px;width:109px"></div>
<div class="l" style="left:695px;top:725px;width:109px"></div>
<div class="l" style="left:806px;top:725px;width:96px"></div>
<div class="l" style="left:904px;top:725px;width:104px"></div>
<div class="t" style="left:2px;top:697px;width:61px">23</div>
<div class="fl" style="left:77px;top:706px;width:14px;height:10px;overflow:hidden"><svg width="14" height="10" viewBox="0 0 14 10" style="display:block"><rect width="14" height="10" fill="#eeeeee"/><circle cx="7" cy="5" r="3" fill="#e3003c"/></svg></div>
<div class="t" style="left:99px;top:697px;text-align:left"><span class="c">中继日本</span>04</div>
<div class="t" style="left:235px;top:697px;width:139px">Shadowsocks</div>
<div class="t" style="left:375px;top:697px;width:92px">112ms</div>
<div class="t" style="left:468px;top:697px;width:116px">397ms</div>
<div class="t" style="left:585px;top:697px;width:109px">112.07MB</div>
<div class="t" style="left:696px;top:697px;width:109px">146.41MB</div>
<div class="t" style="left:905px;top:697px;width:104px;letter-spacing:0.7px;text-indent:0.7px">Unknown</div>
<div class="a" style="left:374px;top:726px;width:92px;height:28px;background:#b7f6d7"></div>
<div class="a" style="left:467px;top:726px;width:116px;height:28px;background:#a1e7bf"></div>
<div class="a" style="left:584px;top:726px;width:109px;height:28px;background:#ff61a6"></div>
<div class="a" style="left:695px;top:726px;width:109px;height:28px;background:#fb329a"></div>
<div class="a" style="left:806px;top:743px;width:15px;height:11px;background:#ff99bb"></div>
<div class="a" style="left:821px;top:727px;width:16px;height:27px;background:#fc359c"></div>
<div class="a" style="left:837px;top:729px;width:16px;height:25px;background:#fd44a0"></div>
<div class="a" style="left:853px;top:737px;width:16px;height:17px;background:#ff70ab"></div>
<div class="a" style="left:869px;top:736px;width:16px;height:18px;background:#ff69a9"></div>
<div class="a" style="left:885px;top:739px;width:17px;height:15px;background:#ff7cb0"></div>
<div class="l" style="left:3px;top:754px;width:61px"></div>
<div class="l" style="left:65px;top:754px;width:168px"></div>
<div class="l" style="left:234px;top:754px;width:139px"></div>
<div class="l" style="left:374px;top:754px;width:92px"></div>
<div class="l" style="left:467px;top:754px;width:116px"></div>
<div class="l" style="left:584px;top:754px;width:109px"></div>
<div class="l" style="left:695px;top:754px;width:109px"></div>
<div class="l" style="left:806px;top:754px;width:96px"></div>
<div class="l" style="left:904px;top:754px;width:104px"></div>
<div class="t" style="left:2px;top:726px;width:61px">24</div>
<div class="fl" style="left:77px;top:735px;width:14px;height:10px;overflow:hidden"><svg width="14" height="10" viewBox="0 0 14 10" style="display:block"><rect width="14" height="10" fill="#eeeeee"/><circle cx="7" cy="5" r="3" fill="#e3003c"/></svg></div>
<div class="t" style="left:99px;top:726px;text-align:left"><span class="c">中继日本</span>05</div>
<div class="t" style="left:235px;top:726px;width:139px">Shadowsocks</div>
<div class="t" style="left:375px;top:726px;width:92px">118ms</div>
<div class="t" style="left:468px;top:726px;width:116px">452ms</div>
<div class="t" style="left:585px;top:726px;width:109px">104.60MB</div>
<div class="t" style="left:696px;top:726px;width:109px">149.86MB</div>
<div class="t" style="left:905px;top:726px;width:104px">FullCone</div>
<div class="a" style="left:374px;top:755px;width:92px;height:28px;background:#b7f6d7"></div>
<div class="a" style="left:467px;top:755px;width:116px;height:28px;background:#a3e8c1"></div>
<div class="a" style="left:584px;top:755px;width:109px;height:28px;background:#ff5da5"></div>
<div class="a" style="left:695px;top:755px;width:109px;height:28px;background:#fc349b"></div>
<div class="a" style="left:806px;top:775px;width:15px;height:8px;background:#ffabc1"></div>
<div class="a" style="left:821px;top:765px;width:16px;height:18px;background:#ff6faa"></div>
<div class="a" style="left:837px;top:758px;width:16px;height:25px;background:#fd439f"></div>
<div class="a" style="left:853px;top:755px;width:16px;height:28px;background:#fc369c"></div>
<div class="a" style="left:869px;top:760px;width:16px;height:23px;background:#fe4ea2"></div>
<div class="a" style="left:885px;top:765px;width:17px;height:18px;background:#ff6daa"></div>
<div class="l" style="left:3px;top:783px;width:61px"></div>
<div class="l" style="left:65px;top:783px;width:168px"></div>
<div class="l" style="left:234px;top:783px;width:139px"></div>
<div class="l" style="left:374px;top:783px;width:92px"></div>
<div class="l" style="left:467px;top:783px;width:116px"></div>
<div class="l" style="left:584px;top:783px;width:109px"></div>
<div class="l" style="left:695px;top:783px;width:109px"></div>
<div class="l" style="left:806px;top:783px;width:96px"></div>
<div class="l" style="left:904px;top:783px;width:104px"></div>
<div class="t" style="left:2px;top:755px;width:61px">25</div>
<div class="fl" style="left:77px;top:764px;width:14px;height:10px;overflow:hidden"><svg width="14" height="10" viewBox="0 0 14 10" style="display:block"><rect width="14" height="10" fill="#eeeeee"/><circle cx="7" cy="5" r="3" fill="#e3003c"/></svg></div>
<div class="t" style="left:99px;top:755px;text-align:left">IEPL<span class="c">日本</span>06</div>
<div class="t" style="left:235px;top:755px;width:139px">Shadowsocks</div>
<div class="t" style="left:375px;top:755px;width:92px">116ms</div>
<div class="t" style="left:468px;top:755px;width:116px">405ms</div>
<div class="t" style="left:585px;top:755px;width:109px">107.39MB</div>
<div class="t" style="left:696px;top:755px;width:109px">147.53MB</div>
<div class="t" style="left:905px;top:755px;width:104px;letter-spacing:0.7px;text-indent:0.7px">Unknown</div>
<div class="a" style="left:374px;top:784px;width:92px;height:28px;background:#b7f6d7"></div>
<div class="a" style="left:467px;top:784px;width:116px;height:28px;background:#a3e8c1"></div>
<div class="a" style="left:584px;top:784px;width:109px;height:28px;background:#ff60a6"></div>
<div class="a" style="left:695px;top:784px;width:109px;height:28px;background:#fc3f9f"></div>
<div class="a" style="left:806px;top:795px;width:15px;height:17px;background:#ff7cb0"></div>
<div class="a" style="left:821px;top:788px;width:16px;height:24px;background:#fe50a2"></div>
<div class="a" style="left:837px;top:787px;width:16px;height:25px;background:#fe4ca1"></div>
<div class="a" style="left:853px;top:790px;width:16px;height:22px;background:#ff60a6"></div>
<div class="a" style="left:869px;top:784px;width:16px;height:28px;background:#fd409f"></div>
<div class="a" style="left:885px;top:801px;width:17px;height:11px;background:#ff9cbc"></div>
<div class="l" style="left:3px;top:812px;width:61px"></div>
<div class="l" style="left:65px;top:812px;width:168px"></div>
<div class="l" style="left:234px;top:812px;width:139px"></div>
<div class="l" style="left:374px;top:812px;width:92px"></div>
<div class="l" style="left:467px;top:812px;width:116px"></div>
<div class="l" style="left:584px;top:812px;width:109px"></div>
<div class="l" style="left:695px;top:812px;width:109px"></div>
<div class="l" style="left:806px;top:812px;width:96px"></div>
<div class="l" style="left:904px;top:812px;width:104px"></div>
<div class="t" style="left:2px;top:784px;width:61px">26</div>
<div class="fl" style="left:77px;top:793px;width:14px;height:10px;overflow:hidden"><svg width="14" height="10" viewBox="0 0 14 10" style="display:block"><rect width="14" height="10" fill="#eeeeee"/><circle cx="7" cy="5" r="3" fill="#e3003c"/></svg></div>
<div class="t" style="left:99px;top:784px;text-align:left">IEPL<span class="c">日本</span>07</div>
<div class="t" style="left:235px;top:784px;width:139px">Shadowsocks</div>
<div class="t" style="left:375px;top:784px;width:92px">116ms</div>
<div class="t" style="left:468px;top:784px;width:116px">394ms</div>
<div class="t" style="left:585px;top:784px;width:109px">105.39MB</div>
<div class="t" style="left:696px;top:784px;width:109px">137.03MB</div>
<div class="t" style="left:905px;top:784px;width:104px">FullCone</div>
<div class="a" style="left:374px;top:813px;width:92px;height:28px;background:#b7f6d6"></div>
<div class="a" style="left:467px;top:813px;width:116px;height:28px;background:#a2e7c0"></div>
<div class="a" style="left:584px;top:813px;width:109px;height:28px;background:#ff65a7"></div>
<div class="a" style="left:695px;top:813px;width:109px;height:28px;background:#fb2a98"></div>
<div class="a" style="left:806px;top:829px;width:15px;height:12px;background:#ff91b8"></div>
<div class="a" style="left:821px;top:824px;width:16px;height:17px;background:#ff6daa"></div>
<div class="a" style="left:837px;top:813px;width:16px;height:28px;background:#fb2c98"></div>
<div class="a" style="left:853px;top:822px;width:16px;height:19px;background:#ff5ea5"></div>
<div class="a" style="left:869px;top:823px;width:16px;height:18px;background:#ff67a8"></div>
<div class="a" style="left:885px;top:830px;width:17px;height:11px;background:#ff96ba"></div>
<div class="l" style="left:3px;top:841px;width:61px"></div>
<div class="l" style="left:65px;top:841px;width:168px"></div>
<div class="l" style="left:234px;top:841px;width:139px"></div>
<div class="l" style="left:374px;top:841px;width:92px"></div>
<div class="l" style="left:467px;top:841px;width:116px"></div>
<div class="l" style="left:584px;top:841px;width:109px"></div>
<div class="l" style="left:695px;top:841px;width:109px"></div>
<div class="l" style="left:806px;top:841px;width:96px"></div>
<div class="l" style="left:904px;top:841px;width:104px"></div>
<div class="t" style="left:2px;top:813px;width:61px">27</div>
<div class="fl" style="left:77px;top:822px;width:14px;height:10px;overflow:hidden"><svg width="14" height="10" viewBox="0 0 14 10" style="display:block"><rect width="14" height="10" fill="#eeeeee"/><circle cx="7" cy="5" r="3" fill="#e3003c"/></svg></div>
<div class="t" style="left:99px;top:813px;text-align:left">IEPL<span class="c">日本</span>08</div>
<div class="t" style="left:235px;top:813px;width:139px">Shadowsocks</div>
<div class="t" style="left:375px;top:813px;width:92px">120ms</div>
<div class="t" style="left:468px;top:813px;width:116px">437ms</div>
<div class="t" style="left:585px;top:813px;width:109px">101.28MB</div>
<div class="t" style="left:696px;top:813px;width:109px">157.17MB</div>
<div class="t" style="left:905px;top:813px;width:104px">FullCone</div>
<div class="a" style="left:374px;top:842px;width:92px;height:28px;background:#b8f7d8"></div>
<div class="a" style="left:467px;top:842px;width:116px;height:28px;background:#a6edc6"></div>
<div class="a" style="left:584px;top:842px;width:109px;height:28px;background:#ff56a4"></div>
<div class="a" style="left:695px;top:842px;width:109px;height:28px;background:#fc3c9e"></div>
<div class="a" style="left:806px;top:851px;width:15px;height:19px;background:#ff6eaa"></div>
<div class="a" style="left:821px;top:850px;width:16px;height:20px;background:#ff69a8"></div>
<div class="a" style="left:837px;top:842px;width:16px;height:28px;background:#fc3e9e"></div>
<div class="a" style="left:853px;top:843px;width:16px;height:27px;background:#fd409f"></div>
<div class="a" style="left:869px;top:850px;width:16px;height:20px;background:#ff67a8"></div>
<div class="a" style="left:885px;top:850px;width:17px;height:20px;background:#ff69a8"></div>
<div class="l" style="left:3px;top:870px;width:61px"></div>
<div class="l" style="left:65px;top:870px;width:168px"></div>
<div class="l" style="left:234px;top:870px;width:139px"></div>
<div class="l" style="left:374px;top:870px;width:92px"></div>
<div class="l" style="left:467px;top:870px;width:116px"></div>
<div class="l" style="left:584px;top:870px;width:109px"></div>
<div class="l" style="left:695px;top:870px;width:109px"></div>
<div class="l" style="left:806px;top:870px;width:96px"></div>
<div class="l" style="left:904px;top:870px;width:104px"></div>
<div class="t" style="left:2px;top:842px;width:61px">28</div>
<div class="fl" style="left:77px;top:851px;width:14px;height:10px;overflow:hidden"><svg width="14" height="10" viewBox="0 0 14 10" style="display:block"><rect width="14" height="10" fill="#eeeeee"/><rect width="14" height="5" fill="#e3173e"/><circle cx="3" cy="2.5" r="1.6" fill="#fff"/><circle cx="3.7" cy="2.5" r="1.4" fill="#e3173e"/></svg></div>
<div class="t" style="left:99px;top:842px;text-align:left">IEPL | <span class="c">新加坡</span>01</div>
<div class="t" style="left:235px;top:842px;width:139px">Shadowsocks</div>
<div class="t" style="left:375px;top:842px;width:92px">95ms</div>
<div class="t" style="left:468px;top:842px;width:116px">335ms</div>
<div class="t" style="left:585px;top:842px;width:109px">113.27MB</div>
<div class="t" style="left:696px;top:842px;width:109px">139.81MB</div>
<div class="t" style="left:905px;top:842px;width:104px;letter-spacing:0.7px;text-indent:0.7px">Unknown</div>
<div class="a" style="left:374px;top:871px;width:92px;height:28px;background:#b7f6d7"></div>
<div class="a" style="left:467px;top:871px;width:116px;height:28px;background:#a3e9c2"></div>
<div class="a" style="left:584px;top:871px;width:109px;height:28px;background:#ff8eb7"></div>
<div class="a" style="left:695px;top:871px;width:109px;height:28px;background:#ff81b2"></div>
<div class="a" style="left:806px;top:878px;width:15px;height:21px;background:#ff99bb"></div>
<div class="a" style="left:821px;top:876px;width:16px;height:23px;background:#ff93b9"></div>
<div class="a" style="left:837px;top:877px;width:16px;height:22px;background:#ff96ba"></div>
<div class="a" style="left:853px;top:877px;width:16px;height:22px;background:#ff94ba"></div>
<div class="a" style="left:869px;top:872px;width:16px;height:27px;background:#ff86b4"></div>
<div class="a" style="left:885px;top:871px;width:17px;height:28px;background:#ff82b2"></div>
<div class="l" style="left:3px;top:899px;width:61px"></div>
<div class="l" style="left:65px;top:899px;width:168px"></div>
<div class="l" style="left:234px;top:899px;width:139px"></div>
<div class="l" style="left:374px;top:899px;width:92px"></div>
<div class="l" style="left:467px;top:899px;width:116px"></div>
<div class="l" style="left:584px;top:899px;width:109px"></div>
<div class="l" style="left:695px;top:899px;width:109px"></div>
<div class="l" style="left:806px;top:899px;width:96px"></div>
<div class="l" style="left:904px;top:899px;width:104px"></div>
<div class="t" style="left:2px;top:871px;width:61px">29</div>
<div class="fl" style="left:77px;top:880px;width:14px;height:10px;overflow:hidden"><svg width="14" height="10" viewBox="0 0 14 10" style="display:block"><rect width="14" height="10" fill="#eeeeee"/><rect width="14" height="5" fill="#e3173e"/><circle cx="3" cy="2.5" r="1.6" fill="#fff"/><circle cx="3.7" cy="2.5" r="1.4" fill="#e3173e"/></svg></div>
<div class="t" style="left:99px;top:871px;text-align:left"><span class="c">中继</span> | <span class="c">新加坡</span>02</div>
<div class="t" style="left:235px;top:871px;width:139px">Shadowsocks</div>
<div class="t" style="left:375px;top:871px;width:92px">119ms</div>
<div class="t" style="left:468px;top:871px;width:116px">391ms</div>
<div class="t" style="left:585px;top:871px;width:109px">68.09MB</div>
<div class="t" style="left:696px;top:871px;width:109px">78.90MB</div>
<div class="t" style="left:905px;top:871px;width:104px;letter-spacing:0.7px;text-indent:0.7px">Unknown</div>
<div class="a" style="left:374px;top:900px;width:92px;height:28px;background:#b8f7d8"></div>
<div class="a" style="left:467px;top:900px;width:116px;height:28px;background:#a7efc7"></div>
<div class="a" style="left:584px;top:900px;width:109px;height:28px;background:#ff56a4"></div>
<div class="a" style="left:695px;top:900px;width:109px;height:28px;background:#fc359c"></div>
<div class="a" style="left:806px;top:910px;width:15px;height:18px;background:#ff6daa"></div>
<div class="a" style="left:821px;top:900px;width:16px;height:28px;background:#fc369c"></div>
<div class="a" style="left:837px;top:902px;width:16px;height:26px;background:#fd419f"></div>
<div class="a" style="left:853px;top:910px;width:16px;height:18px;background:#ff6daa"></div>
<div class="a" style="left:869px;top:910px;width:16px;height:18px;background:#ff6daa"></div>
<div class="a" style="left:885px;top:910px;width:17px;height:18px;background:#ff6daa"></div>
<div class="l" style="left:3px;top:928px;width:61px"></div>
<div class="l" style="left:65px;top:928px;width:168px"></div>
<div class="l" style="left:234px;top:928px;width:139px"></div>
<div class="l" style="left:374px;top:928px;width:92px"></div>
<div class="l" style="left:467px;top:928px;width:116px"></div>
<div class="l" style="left:584px;top:928px;width:109px"></div>
<div class="l" style="left:695px;top:928px;width:109px"></div>
<div class="l" style="left:806px;top:928px;width:96px"></div>
<div class="l" style="left:904px;top:928px;width:104px"></div>
<div class="t" style="left:2px;top:900px;width:61px">30</div>
<div class="fl" style="left:77px;top:909px;width:14px;height:10px;overflow:hidden"><svg width="14" height="10" viewBox="0 0 14 10" style="display:block"><rect width="14" height="10" fill="#eeeeee"/><rect width="14" height="5" fill="#e3173e"/><circle cx="3" cy="2.5" r="1.6" fill="#fff"/><circle cx="3.7" cy="2.5" r="1.4" fill="#e3173e"/></svg></div>
<div class="t" style="left:99px;top:900px;text-align:left">IEPL | <span class="c">新加坡</span>03</div>
<div class="t" style="left:235px;top:900px;width:139px">Shadowsocks</div>
<div class="t" style="left:375px;top:900px;width:92px">99ms</div>
<div class="t" style="left:468px;top:900px;width:116px">311ms</div>
<div class="t" style="left:585px;top:900px;width:109px">113.09MB</div>
<div class="t" style="left:696px;top:900px;width:109px">146.73MB</div>
<div class="t" style="left:905px;top:900px;width:104px">FullCone</div>
<div class="a" style="left:374px;top:929px;width:92px;height:28px;background:#b6f6d6"></div>
<div class="a" style="left:467px;top:929px;width:116px;height:28px;background:#a2e7c0"></div>
<div class="a" style="left:584px;top:929px;width:109px;height:28px;background:#ff62a7"></div>
<div class="a" style="left:695px;top:929px;width:109px;height:28px;background:#fe50a2"></div>
<div class="a" style="left:806px;top:929px;width:15px;height:28px;background:#ff51a2"></div>
<div class="a" style="left:821px;top:933px;width:16px;height:24px;background:#ff64a7"></div>
<div class="a" style="left:837px;top:930px;width:16px;height:27px;background:#ff54a3"></div>
<div class="a" style="left:853px;top:932px;width:16px;height:25px;background:#ff60a6"></div>
<div class="a" style="left:869px;top:937px;width:16px;height:20px;background:#ff79ae"></div>
<div class="a" style="left:885px;top:937px;width:17px;height:20px;background:#ff79ae"></div>
<div class="l" style="left:3px;top:957px;width:61px"></div>
<div class="l" style="left:65px;top:957px;width:168px"></div>
<div class="l" style="left:234px;top:957px;width:139px"></div>
<div class="l" style="left:374px;top:957px;width:92px"></div>
<div class="l" style="left:467px;top:957px;width:116px"></div>
<div class="l" style="left:584px;top:957px;width:109px"></div>
<div class="l" style="left:695px;top:957px;width:109px"></div>
<div class="l" style="left:806px;top:957px;width:96px"></div>
<div class="l" style="left:904px;top:957px;width:104px"></div>
<div class="t" style="left:2px;top:929px;width:61px">31</div>
<div class="fl" style="left:77px;top:938px;width:14px;height:10px;overflow:hidden"><svg width="14" height="10" viewBox="0 0 14 10" style="display:block"><rect width="14" height="10" fill="#eeeeee"/><rect width="14" height="5" fill="#e3173e"/><circle cx="3" cy="2.5" r="1.6" fill="#fff"/><circle cx="3.7" cy="2.5" r="1.4" fill="#e3173e"/></svg></div>
<div class="t" style="left:99px;top:929px;text-align:left"><span class="c">中继</span> | <span class="c">新加坡</span>04</div>
<div class="t" style="left:235px;top:929px;width:139px">Shadowsocks</div>
<div class="t" style="left:375px;top:929px;width:92px">137ms</div>
<div class="t" style="left:468px;top:929px;width:116px">427ms</div>
<div class="t" style="left:585px;top:929px;width:109px">103.54MB</div>
<div class="t" style="left:696px;top:929px;width:109px">119.59MB</div>
<div class="t" style="left:905px;top:929px;width:104px">FullCone</div>
<div class="a" style="left:374px;top:958px;width:92px;height:28px;background:#b8f6d7"></div>
<div class="a" style="left:467px;top:958px;width:116px;height:28px;background:#a7eec6"></div>
<div class="a" style="left:584px;top:958px;width:109px;height:28px;background:#ff56a3"></div>
<div class="a" style="left:695px;top:958px;width:109px;height:28px;background:#fb309a"></div>
<div class="a" style="left:806px;top:969px;width:15px;height:17px;background:#ff71ab"></div>
<div class="a" style="left:821px;top:958px;width:16px;height:28px;background:#fb319a"></div>
<div class="a" style="left:837px;top:961px;width:16px;height:25px;background:#fd419f"></div>
<div class="a" style="left:853px;top:968px;width:16px;height:18px;background:#ff6ca9"></div>
<div class="a" style="left:869px;top:968px;width:16px;height:18px;background:#ff6ca9"></div>
<div class="a" style="left:885px;top:968px;width:17px;height:18px;background:#ff6ca9"></div>
<div class="l" style="left:3px;top:986px;width:61px"></div>
<div class="l" style="left:65px;top:986px;width:168px"></div>
<div class="l" style="left:234px;top:986px;width:139px"></div>
<div class="l" style="left:374px;top:986px;width:92px"></div>
<div class="l" style="left:467px;top:986px;width:116px"></div>
<div class="l" style="left:584px;top:986px;width:109px"></div>
<div class="l" style="left:695px;top:986px;width:109px"></div>
<div class="l" style="left:806px;top:986px;width:96px"></div>
<div class="l" style="left:904px;top:986px;width:104px"></div>
<div class="t" style="left:2px;top:958px;width:61px">32</div>
<div class="fl" style="left:77px;top:967px;width:14px;height:10px;overflow:hidden"><svg width="14" height="10" viewBox="0 0 14 10" style="display:block"><rect width="14" height="10" fill="#eeeeee"/><rect width="14" height="5" fill="#e3173e"/><circle cx="3" cy="2.5" r="1.6" fill="#fff"/><circle cx="3.7" cy="2.5" r="1.4" fill="#e3173e"/></svg></div>
<div class="t" style="left:99px;top:958px;text-align:left">IEPL | <span class="c">新加坡</span>05</div>
<div class="t" style="left:235px;top:958px;width:139px">Shadowsocks</div>
<div class="t" style="left:375px;top:958px;width:92px">106ms</div>
<div class="t" style="left:468px;top:958px;width:116px">329ms</div>
<div class="t" style="left:585px;top:958px;width:109px">113.62MB</div>
<div class="t" style="left:696px;top:958px;width:109px">151.55MB</div>
<div class="t" style="left:905px;top:958px;width:104px">FullCone</div>
<div class="a" style="left:374px;top:987px;width:92px;height:28px;background:#b6f6d6"></div>
<div class="a" style="left:467px;top:987px;width:116px;height:28px;background:#a2e8c0"></div>
<div class="a" style="left:584px;top:987px;width:109px;height:28px;background:#ff96ba"></div>
<div class="a" style="left:695px;top:987px;width:109px;height:28px;background:#ff93b9"></div>
<div class="a" style="left:806px;top:991px;width:15px;height:24px;background:#ff9cbc"></div>
<div class="a" style="left:821px;top:987px;width:16px;height:28px;background:#ff94ba"></div>
<div class="a" style="left:837px;top:988px;width:16px;height:27px;background:#ff96ba"></div>
<div class="a" style="left:853px;top:988px;width:16px;height:27px;background:#ff96ba"></div>
<div class="a" style="left:869px;top:988px;width:16px;height:27px;background:#ff96ba"></div>
<div class="a" style="left:885px;top:989px;width:17px;height:26px;background:#ff98bb"></div>
<div class="l" style="left:3px;top:1015px;width:61px"></div>
<div class="l" style="left:65px;top:1015px;width:168px"></div>
<div class="l" style="left:234px;top:1015px;width:139px"></div>
<div class="l" style="left:374px;top:1015px;width:92px"></div>
<div class="l" style="left:467px;top:1015px;width:116px"></div>
<div class="l" style="left:584px;top:1015px;width:109px"></div>
<div class="l" style="left:695px;top:1015px;width:109px"></div>
<div class="l" style="left:806px;top:1015px;width:96px"></div>
<div class="l" style="left:904px;top:1015px;width:104px"></div>
<div class="t" style="left:2px;top:987px;width:61px">33</div>
<div class="fl" style="left:77px;top:996px;width:14px;height:10px;overflow:hidden"><svg width="14" height="10" viewBox="0 0 14 10" style="display:block"><rect width="14" height="10" fill="#eeeeee"/><rect width="14" height="5" fill="#e3173e"/><circle cx="3" cy="2.5" r="1.6" fill="#fff"/><circle cx="3.7" cy="2.5" r="1.4" fill="#e3173e"/></svg></div>
<div class="t" style="left:99px;top:987px;text-align:left"><span class="c">中继</span> | <span class="c">新加坡</span>06</div>
<div class="t" style="left:235px;top:987px;width:139px">Shadowsocks</div>
<div class="t" style="left:375px;top:987px;width:92px">132ms</div>
<div class="t" style="left:468px;top:987px;width:116px">423ms</div>
<div class="t" style="left:585px;top:987px;width:109px">60.98MB</div>
<div class="t" style="left:696px;top:987px;width:109px">63.73MB</div>
<div class="t" style="left:905px;top:987px;width:104px;letter-spacing:0.7px;text-indent:0.7px">Unknown</div>
<div class="a" style="left:374px;top:1016px;width:92px;height:28px;background:#b8f6d7"></div>
<div class="a" style="left:467px;top:1016px;width:116px;height:28px;background:#a7eec6"></div>
<div class="a" style="left:584px;top:1016px;width:109px;height:28px;background:#ff58a4"></div>
<div class="a" style="left:695px;top:1016px;width:109px;height:28px;background:#fb2095"></div>
<div class="a" style="left:806px;top:1027px;width:15px;height:17px;background:#ff67a8"></div>
<div class="a" style="left:821px;top:1026px;width:16px;height:18px;background:#ff5fa6"></div>
<div class="a" style="left:837px;top:1016px;width:16px;height:28px;background:#fb2295"></div>
<div class="a" style="left:853px;top:1028px;width:16px;height:16px;background:#ff6eaa"></div>
<div class="a" style="left:869px;top:1027px;width:16px;height:17px;background:#ff67a8"></div>
<div class="a" style="left:885px;top:1030px;width:17px;height:14px;background:#ff79ae"></div>
<div class="l" style="left:3px;top:1044px;width:61px"></div>
<div class="l" style="left:65px;top:1044px;width:168px"></div>
<div class="l" style="left:234px;top:1044px;width:139px"></div>
<div class="l" style="left:374px;top:1044px;width:92px"></div>
<div class="l" style="left:467px;top:1044px;width:116px"></div>
<div class="l" style="left:584px;top:1044px;width:109px"></div>
<div class="l" style="left:695px;top:1044px;width:109px"></div>
<div class="l" style="left:806px;top:1044px;width:96px"></div>
<div class="l" style="left:904px;top:1044px;width:104px"></div>
<div class="t" style="left:2px;top:1016px;width:61px">34</div>
<div class="fl" style="left:77px;top:1025px;width:14px;height:10px;overflow:hidden"><svg width="14" height="10" viewBox="0 0 14 10" style="display:block"><rect width="14" height="10" fill="#eeeeee"/><rect width="14" height="5" fill="#e3173e"/><circle cx="3" cy="2.5" r="1.6" fill="#fff"/><circle cx="3.7" cy="2.5" r="1.4" fill="#e3173e"/></svg></div>
<div class="t" style="left:99px;top:1016px;text-align:left">IEPL | <span class="c">新加坡</span>07</div>
<div class="t" style="left:235px;top:1016px;width:139px">Shadowsocks</div>
<div class="t" style="left:375px;top:1016px;width:92px">101ms</div>
<div class="t" style="left:468px;top:1016px;width:116px">329ms</div>
<div class="t" style="left:585px;top:1016px;width:109px">111.89MB</div>
<div class="t" style="left:696px;top:1016px;width:109px">166.21MB</div>
<div class="t" style="left:905px;top:1016px;width:104px">FullCone</div>
<div class="a" style="left:374px;top:1045px;width:92px;height:28px;background:#b5f6d5"></div>
<div class="a" style="left:467px;top:1045px;width:116px;height:28px;background:#9fe6be"></div>
<div class="a" style="left:584px;top:1045px;width:109px;height:28px;background:#ff93b9"></div>
<div class="a" style="left:695px;top:1045px;width:109px;height:28px;background:#ff84b3"></div>
<div class="a" style="left:806px;top:1055px;width:15px;height:18px;background:#ffa3bf"></div>
<div class="a" style="left:821px;top:1045px;width:16px;height:28px;background:#ff85b4"></div>
<div class="a" style="left:837px;top:1050px;width:16px;height:23px;background:#ff94ba"></div>
<div class="a" style="left:853px;top:1049px;width:16px;height:24px;background:#ff92b9"></div>
<div class="a" style="left:869px;top:1050px;width:16px;height:23px;background:#ff94ba"></div>
<div class="a" style="left:885px;top:1050px;width:17px;height:23px;background:#ff94ba"></div>
<div class="l" style="left:3px;top:1073px;width:61px"></div>
<div class="l" style="left:65px;top:1073px;width:168px"></div>
<div class="l" style="left:234px;top:1073px;width:139px"></div>
<div class="l" style="left:374px;top:1073px;width:92px"></div>
<div class="l" style="left:467px;top:1073px;width:116px"></div>
<div class="l" style="left:584px;top:1073px;width:109px"></div>
<div class="l" style="left:695px;top:1073px;width:109px"></div>
<div class="l" style="left:806px;top:1073px;width:96px"></div>
<div class="l" style="left:904px;top:1073px;width:104px"></div>
<div class="t" style="left:2px;top:1045px;width:61px">35</div>
<div class="fl" style="left:77px;top:1054px;width:14px;height:10px;overflow:hidden"><svg width="14" height="10" viewBox="0 0 14 10" style="display:block"><rect width="14" height="10" fill="#eeeeee"/><rect width="14" height="5" fill="#e3173e"/><circle cx="3" cy="2.5" r="1.6" fill="#fff"/><circle cx="3.7" cy="2.5" r="1.4" fill="#e3173e"/></svg></div>
<div class="t" style="left:99px;top:1045px;text-align:left"><span class="c">中继</span> | <span class="c">新加坡</span>08</div>
<div class="t" style="left:235px;top:1045px;width:139px">Shadowsocks</div>
<div class="t" style="left:375px;top:1045px;width:92px">154ms</div>
<div class="t" style="left:468px;top:1045px;width:116px">501ms</div>
<div class="t" style="left:585px;top:1045px;width:109px">64.23MB</div>
<div class="t" style="left:696px;top:1045px;width:109px">76.35MB</div>
<div class="t" style="left:905px;top:1045px;width:104px;letter-spacing:0.7px;text-indent:0.7px">Unknown</div>
<div class="a" style="left:374px;top:1074px;width:92px;height:28px;background:#b8f7d8"></div>
<div class="a" style="left:467px;top:1074px;width:116px;height:28px;background:#a6ecc5"></div>
<div class="a" style="left:584px;top:1074px;width:109px;height:28px;background:#ff5aa4"></div>
<div class="a" style="left:695px;top:1074px;width:109px;height:28px;background:#fa1691"></div>
<div class="a" style="left:806px;top:1085px;width:15px;height:17px;background:#ff5da5"></div>
<div class="a" style="left:821px;top:1074px;width:16px;height:28px;background:#fa1791"></div>
<div class="a" style="left:837px;top:1086px;width:16px;height:16px;background:#ff66a7"></div>
<div class="a" style="left:853px;top:1087px;width:16px;height:15px;background:#ff6ca9"></div>
<div class="a" style="left:869px;top:1095px;width:16px;height:7px;background:#ffa9c1"></div>
<div class="a" style="left:885px;top:1082px;width:17px;height:20px;background:#fe4aa1"></div>
<div class="l" style="left:3px;top:1102px;width:61px"></div>
<div class="l" style="left:65px;top:1102px;width:168px"></div>
<div class="l" style="left:234px;top:1102px;width:139px"></div>
<div class="l" style="left:374px;top:1102px;width:92px"></div>
<div class="l" style="left:467px;top:1102px;width:116px"></div>
<div class="l" style="left:584px;top:1102px;width:109px"></div>
<div class="l" style="left:695px;top:1102px;width:109px"></div>
<div class="l" style="left:806px;top:1102px;width:96px"></div>
<div class="l" style="left:904px;top:1102px;width:104px"></div>
<div class="t" style="left:2px;top:1074px;width:61px">36</div>
<div class="fl" style="left:77px;top:1083px;width:14px;height:10px;overflow:hidden"><svg width="14" height="10" viewBox="0 0 14 10" style="display:block"><rect width="14" height="10" fill="#eeeeee"/><rect width="14" height="5" fill="#e3173e"/><circle cx="3" cy="2.5" r="1.6" fill="#fff"/><circle cx="3.7" cy="2.5" r="1.4" fill="#e3173e"/></svg></div>
<div class="t" style="left:99px;top:1074px;text-align:left"><span class="c">中继</span> | <span class="c">新加坡</span>09</div>
<div class="t" style="left:235px;top:1074px;width:139px">Shadowsocks</div>
<div class="t" style="left:375px;top:1074px;width:92px">99ms</div>
<div class="t" style="left:468px;top:1074px;width:116px">348ms</div>
<div class="t" style="left:585px;top:1074px;width:109px">110.30MB</div>
<div class="t" style="left:696px;top:1074px;width:109px">176.54MB</div>
<div class="t" style="left:905px;top:1074px;width:104px">FullCone</div>
<div class="a" style="left:374px;top:1103px;width:92px;height:28px;background:#b6f6d6"></div>
<div class="a" style="left:467px;top:1103px;width:116px;height:28px;background:#a2e8c1"></div>
<div class="a" style="left:584px;top:1103px;width:109px;height:28px;background:#ff8ab6"></div>
<div class="a" style="left:695px;top:1103px;width:109px;height:28px;background:#ff7db0"></div>
<div class="a" style="left:806px;top:1111px;width:15px;height:20px;background:#ff99bb"></div>
<div class="a" style="left:821px;top:1109px;width:16px;height:22px;background:#ff93b9"></div>
<div class="a" style="left:837px;top:1108px;width:16px;height:23px;background:#ff91b8"></div>
<div class="a" style="left:853px;top:1105px;width:16px;height:26px;background:#ff85b3"></div>
<div class="a" style="left:869px;top:1103px;width:16px;height:28px;background:#ff7eb0"></div>
<div class="a" style="left:885px;top:1106px;width:17px;height:25px;background:#ff88b5"></div>
<div class="l" style="left:3px;top:1131px;width:61px"></div>
<div class="l" style="left:65px;top:1131px;width:168px"></div>
<div class="l" style="left:234px;top:1131px;width:139px"></div>
<div class="l" style="left:374px;top:1131px;width:92px"></div>
<div class="l" style="left:467px;top:1131px;width:116px"></div>
<div class="l" style="left:584px;top:1131px;width:109px"></div>
<div class="l" style="left:695px;top:1131px;width:109px"></div>
<div class="l" style="left:806px;top:1131px;width:96px"></div>
<div class="l" style="left:904px;top:1131px;width:104px"></div>
<div class="t" style="left:2px;top:1103px;width:61px">37</div>
<div class="fl" style="left:77px;top:1112px;width:14px;height:10px;overflow:hidden"><svg width="14" height="10" viewBox="0 0 14 10" style="display:block"><rect width="14" height="10" fill="#eeeeee"/><rect width="14" height="5" fill="#e3173e"/><circle cx="3" cy="2.5" r="1.6" fill="#fff"/><circle cx="3.7" cy="2.5" r="1.4" fill="#e3173e"/></svg></div>
<div class="t" style="left:99px;top:1103px;text-align:left"><span class="c">中继</span> | <span class="c">新加坡</span>10</div>
<div class="t" style="left:235px;top:1103px;width:139px">Shadowsocks</div>
<div class="t" style="left:375px;top:1103px;width:92px">128ms</div>
<div class="t" style="left:468px;top:1103px;width:116px">414ms</div>
<div class="t" style="left:585px;top:1103px;width:109px">71.55MB</div>
<div class="t" style="left:696px;top:1103px;width:109px">81.71MB</div>
<div class="t" style="left:905px;top:1103px;width:104px">FullCone</div>
<div class="a" style="left:374px;top:1132px;width:92px;height:28px;background:#adf4cd"></div>
<div class="a" style="left:467px;top:1132px;width:116px;height:28px;background:#5b9e74"></div>
<div class="a" style="left:584px;top:1132px;width:109px;height:28px;background:#ffb2c5"></div>
<div class="a" style="left:695px;top:1132px;width:109px;height:28px;background:#ff9ebd"></div>
<div class="a" style="left:806px;top:1132px;width:15px;height:28px;background:#ff9ebd"></div>
<div class="a" style="left:821px;top:1144px;width:16px;height:16px;background:#ffb9c8"></div>
<div class="a" style="left:837px;top:1135px;width:16px;height:25px;background:#ffa3bf"></div>
<div class="a" style="left:853px;top:1139px;width:16px;height:21px;background:#ffabc2"></div>
<div class="a" style="left:869px;top:1142px;width:16px;height:18px;background:#ffb5c6"></div>
<div class="l" style="left:3px;top:1160px;width:61px"></div>
<div class="l" style="left:65px;top:1160px;width:168px"></div>
<div class="l" style="left:234px;top:1160px;width:139px"></div>
<div class="l" style="left:374px;top:1160px;width:92px"></div>
<div class="l" style="left:467px;top:1160px;width:116px"></div>
<div class="l" style="left:584px;top:1160px;width:109px"></div>
<div class="l" style="left:695px;top:1160px;width:109px"></div>
<div class="l" style="left:806px;top:1160px;width:96px"></div>
<div class="l" style="left:904px;top:1160px;width:104px"></div>
<div class="t" style="left:2px;top:1132px;width:61px">38</div>
<div class="fl" style="left:77px;top:1141px;width:14px;height:10px;overflow:hidden"><svg width="14" height="10" viewBox="0 0 14 10" style="display:block"><rect width="14" height="10" fill="#eee"/><rect y="0.00" width="14" height="0.77" fill="#d06a85"/><rect y="1.54" width="14" height="0.77" fill="#d06a85"/><rect y="3.08" width="14" height="0.77" fill="#d06a85"/><rect y="4.62" width="14" height="0.77" fill="#d06a85"/><rect y="6.16" width="14" height="0.77" fill="#d06a85"/><rect y="7.70" width="14" height="0.77" fill="#d06a85"/><rect y="9.24" width="14" height="0.77" fill="#d06a85"/><rect width="6" height="5" fill="#4a5290"/><rect x="1" y="1" width="4.2" height="3" fill="#8a8a8a"/></svg></div>
<div class="t" style="left:99px;top:1132px;text-align:left">IEPL<span class="c">美国</span>01</div>
<div class="t" style="left:235px;top:1132px;width:139px">Shadowsocks</div>
<div class="t" style="left:375px;top:1132px;width:92px">229ms</div>
<div class="t" style="left:468px;top:1132px;width:116px">1800ms</div>
<div class="t" style="left:585px;top:1132px;width:109px">35.37MB</div>
<div class="t" style="left:696px;top:1132px;width:109px">53.56MB</div>
<div class="t" style="left:905px;top:1132px;width:104px;letter-spacing:0.7px;text-indent:0.7px">Unknown</div>
<div class="a" style="left:374px;top:1161px;width:92px;height:28px;background:#acf4cc"></div>
<div class="a" style="left:467px;top:1161px;width:116px;height:28px;background:#94d9af"></div>
<div class="a" style="left:584px;top:1161px;width:109px;height:28px;background:#ff8eb7"></div>
<div class="a" style="left:695px;top:1161px;width:109px;height:28px;background:#ff7aaf"></div>
<div class="a" style="left:806px;top:1184px;width:15px;height:5px;background:#fdceca"></div>
<div class="a" style="left:821px;top:1164px;width:16px;height:25px;background:#ff85b4"></div>
<div class="a" style="left:837px;top:1162px;width:16px;height:27px;background:#ff7eb1"></div>
<div class="a" style="left:853px;top:1163px;width:16px;height:26px;background:#ff83b3"></div>
<div class="a" style="left:869px;top:1161px;width:16px;height:28px;background:#ff7baf"></div>
<div class="a" style="left:885px;top:1165px;width:17px;height:24px;background:#ff8ab6"></div>
<div class="l" style="left:3px;top:1189px;width:61px"></div>
<div class="l" style="left:65px;top:1189px;width:168px"></div>
<div class="l" style="left:234px;top:1189px;width:139px"></div>
<div class="l" style="left:374px;top:1189px;width:92px"></div>
<div class="l" style="left:467px;top:1189px;width:116px"></div>
<div class="l" style="left:584px;top:1189px;width:109px"></div>
<div class="l" style="left:695px;top:1189px;width:109px"></div>
<div class="l" style="left:806px;top:1189px;width:96px"></div>
<div class="l" style="left:904px;top:1189px;width:104px"></div>
<div class="t" style="left:2px;top:1161px;width:61px">39</div>
<div class="fl" style="left:77px;top:1170px;width:14px;height:10px;overflow:hidden"><svg width="14" height="10" viewBox="0 0 14 10" style="display:block"><rect width="14" height="10" fill="#eee"/><rect y="0.00" width="14" height="0.77" fill="#d06a85"/><rect y="1.54" width="14" height="0.77" fill="#d06a85"/><rect y="3.08" width="14" height="0.77" fill="#d06a85"/><rect y="4.62" width="14" height="0.77" fill="#d06a85"/><rect y="6.16" width="14" height="0.77" fill="#d06a85"/><rect y="7.70" width="14" height="0.77" fill="#d06a85"/><rect y="9.24" width="14" height="0.77" fill="#d06a85"/><rect width="6" height="5" fill="#4a5290"/><rect x="1" y="1" width="4.2" height="3" fill="#8a8a8a"/></svg></div>
<div class="t" style="left:99px;top:1161px;text-align:left"><span class="c">中继美国</span>03</div>
<div class="t" style="left:235px;top:1161px;width:139px">Shadowsocks</div>
<div class="t" style="left:375px;top:1161px;width:92px">240ms</div>
<div class="t" style="left:468px;top:1161px;width:116px">784ms</div>
<div class="t" style="left:585px;top:1161px;width:109px">68.72MB</div>
<div class="t" style="left:696px;top:1161px;width:109px">83.99MB</div>
<div class="t" style="left:905px;top:1161px;width:104px">FullCone</div>
<div class="a" style="left:374px;top:1190px;width:92px;height:28px;background:#b8f7d8"></div>
<div class="a" style="left:467px;top:1190px;width:116px;height:28px;background:#90d6ac"></div>
<div class="a" style="left:584px;top:1190px;width:109px;height:28px;background:#ff5aa4"></div>
<div class="a" style="left:695px;top:1190px;width:109px;height:28px;background:#fd419f"></div>
<div class="a" style="left:806px;top:1203px;width:15px;height:15px;background:#ff89b5"></div>
<div class="a" style="left:821px;top:1193px;width:16px;height:25px;background:#fe4fa2"></div>
<div class="a" style="left:837px;top:1190px;width:16px;height:28px;background:#fd439f"></div>
<div class="a" style="left:853px;top:1191px;width:16px;height:27px;background:#fd46a0"></div>
<div class="a" style="left:869px;top:1198px;width:16px;height:20px;background:#ff6aa9"></div>
<div class="a" style="left:885px;top:1198px;width:17px;height:20px;background:#ff6ca9"></div>
<div class="l" style="left:3px;top:1218px;width:61px"></div>
<div class="l" style="left:65px;top:1218px;width:168px"></div>
<div class="l" style="left:234px;top:1218px;width:139px"></div>
<div class="l" style="left:374px;top:1218px;width:92px"></div>
<div class="l" style="left:467px;top:1218px;width:116px"></div>
<div class="l" style="left:584px;top:1218px;width:109px"></div>
<div class="l" style="left:695px;top:1218px;width:109px"></div>
<div class="l" style="left:806px;top:1218px;width:96px"></div>
<div class="l" style="left:904px;top:1218px;width:104px"></div>
<div class="t" style="left:2px;top:1190px;width:61px">40</div>
<div class="fl" style="left:77px;top:1199px;width:14px;height:10px;overflow:hidden"><svg width="14" height="10" viewBox="0 0 14 10" style="display:block"><rect width="14" height="10" fill="#e3173e"/><rect width="6.5" height="5" fill="#0b1e8c"/><circle cx="3.2" cy="2.5" r="1.3" fill="#fff"/></svg></div>
<div class="t" style="left:99px;top:1190px;text-align:left">IEPL<span class="c">台湾</span>01</div>
<div class="t" style="left:235px;top:1190px;width:139px">Shadowsocks</div>
<div class="t" style="left:375px;top:1190px;width:92px">96ms</div>
<div class="t" style="left:468px;top:1190px;width:116px">862ms</div>
<div class="t" style="left:585px;top:1190px;width:109px">110.17MB</div>
<div class="t" style="left:696px;top:1190px;width:109px">134.55MB</div>
<div class="t" style="left:905px;top:1190px;width:104px">FullCone</div>
<div class="a" style="left:374px;top:1219px;width:92px;height:28px;background:#b8f6d7"></div>
<div class="a" style="left:467px;top:1219px;width:116px;height:28px;background:#a6ecc5"></div>
<div class="a" style="left:584px;top:1219px;width:109px;height:28px;background:#ff8eb7"></div>
<div class="a" style="left:695px;top:1219px;width:109px;height:28px;background:#ff84b3"></div>
<div class="a" style="left:806px;top:1228px;width:15px;height:19px;background:#ffa0be"></div>
<div class="a" style="left:821px;top:1219px;width:16px;height:28px;background:#ff85b4"></div>
<div class="a" style="left:837px;top:1224px;width:16px;height:23px;background:#ff94ba"></div>
<div class="a" style="left:853px;top:1222px;width:16px;height:25px;background:#ff8eb7"></div>
<div class="a" style="left:869px;top:1221px;width:16px;height:26px;background:#ff8cb6"></div>
<div class="a" style="left:885px;top:1220px;width:17px;height:27px;background:#ff88b5"></div>
<div class="l" style="left:3px;top:1247px;width:61px"></div>
<div class="l" style="left:65px;top:1247px;width:168px"></div>
<div class="l" style="left:234px;top:1247px;width:139px"></div>
<div class="l" style="left:374px;top:1247px;width:92px"></div>
<div class="l" style="left:467px;top:1247px;width:116px"></div>
<div class="l" style="left:584px;top:1247px;width:109px"></div>
<div class="l" style="left:695px;top:1247px;width:109px"></div>
<div class="l" style="left:806px;top:1247px;width:96px"></div>
<div class="l" style="left:904px;top:1247px;width:104px"></div>
<div class="t" style="left:2px;top:1219px;width:61px">41</div>
<div class="fl" style="left:77px;top:1228px;width:14px;height:10px;overflow:hidden"><svg width="14" height="10" viewBox="0 0 14 10" style="display:block"><rect width="14" height="10" fill="#e3173e"/><rect width="6.5" height="5" fill="#0b1e8c"/><circle cx="3.2" cy="2.5" r="1.3" fill="#fff"/></svg></div>
<div class="t" style="left:99px;top:1219px;text-align:left"><span class="c">中继台湾</span>02</div>
<div class="t" style="left:235px;top:1219px;width:139px">Shadowsocks</div>
<div class="t" style="left:375px;top:1219px;width:92px">106ms</div>
<div class="t" style="left:468px;top:1219px;width:116px">346ms</div>
<div class="t" style="left:585px;top:1219px;width:109px">68.25MB</div>
<div class="t" style="left:696px;top:1219px;width:109px">76.19MB</div>
<div class="t" style="left:905px;top:1219px;width:104px">FullCone</div>
<div class="a" style="left:374px;top:1248px;width:92px;height:28px;background:#aff5cf"></div>
<div class="a" style="left:467px;top:1248px;width:116px;height:28px;background:#9ce1b9"></div>
<div class="a" style="left:584px;top:1248px;width:109px;height:28px;background:#ffb8c7"></div>
<div class="a" style="left:695px;top:1248px;width:109px;height:28px;background:#ffacc2"></div>
<div class="a" style="left:806px;top:1261px;width:15px;height:15px;background:#ffbdc8"></div>
<div class="a" style="left:821px;top:1260px;width:16px;height:16px;background:#ffbbc8"></div>
<div class="a" style="left:837px;top:1258px;width:16px;height:18px;background:#ffb5c6"></div>
<div class="a" style="left:853px;top:1254px;width:16px;height:22px;background:#ffacc2"></div>
<div class="a" style="left:869px;top:1261px;width:16px;height:15px;background:#ffbcc8"></div>
<div class="a" style="left:885px;top:1260px;width:17px;height:16px;background:#ffbbc8"></div>
<div class="l" style="left:3px;top:1276px;width:61px"></div>
<div class="l" style="left:65px;top:1276px;width:168px"></div>
<div class="l" style="left:234px;top:1276px;width:139px"></div>
<div class="l" style="left:374px;top:1276px;width:92px"></div>
<div class="l" style="left:467px;top:1276px;width:116px"></div>
<div class="l" style="left:584px;top:1276px;width:109px"></div>
<div class="l" style="left:695px;top:1276px;width:109px"></div>
<div class="l" style="left:806px;top:1276px;width:96px"></div>
<div class="l" style="left:904px;top:1276px;width:104px"></div>
<div class="t" style="left:2px;top:1248px;width:61px">42</div>
<div class="fl" style="left:77px;top:1257px;width:14px;height:10px;overflow:hidden"><svg width="14" height="10" viewBox="0 0 14 10" style="display:block"><rect width="14" height="10" fill="#c7365a"/><rect y="1.7" width="14" height="6.6" fill="#f4eef0"/><rect y="3.3" width="14" height="3.4" fill="#151535"/></svg></div>
<div class="t" style="left:99px;top:1248px;text-align:left">IEPL<span class="c">泰国</span> | <span class="c">住宅</span></div>
<div class="t" style="left:235px;top:1248px;width:139px">Shadowsocks</div>
<div class="t" style="left:375px;top:1248px;width:92px">208ms</div>
<div class="t" style="left:468px;top:1248px;width:116px">658ms</div>
<div class="t" style="left:585px;top:1248px;width:109px">31.60MB</div>
<div class="t" style="left:696px;top:1248px;width:109px">39.95MB</div>
<div class="t" style="left:905px;top:1248px;width:104px;letter-spacing:0.7px;text-indent:0.7px">Unknown</div>
<div class="a" style="left:374px;top:1277px;width:92px;height:28px;background:#b2f6d2"></div>
<div class="a" style="left:467px;top:1277px;width:116px;height:28px;background:#9ce7bc"></div>
<div class="a" style="left:584px;top:1277px;width:109px;height:28px;background:#ffc7ca"></div>
<div class="a" style="left:695px;top:1277px;width:109px;height:28px;background:#ffbac8"></div>
<div class="a" style="left:806px;top:1299px;width:15px;height:6px;background:#f9d3c9"></div>
<div class="a" style="left:821px;top:1295px;width:16px;height:10px;background:#fecbca"></div>
<div class="a" style="left:837px;top:1289px;width:16px;height:16px;background:#ffbbc8"></div>
<div class="a" style="left:853px;top:1289px;width:16px;height:16px;background:#ffbac8"></div>
<div class="a" style="left:869px;top:1293px;width:16px;height:12px;background:#ffc6ca"></div>
<div class="a" style="left:885px;top:1294px;width:17px;height:11px;background:#ffc9ca"></div>
<div class="l" style="left:3px;top:1305px;width:61px"></div>
<div class="l" style="left:65px;top:1305px;width:168px"></div>
<div class="l" style="left:234px;top:1305px;width:139px"></div>
<div class="l" style="left:374px;top:1305px;width:92px"></div>
<div class="l" style="left:467px;top:1305px;width:116px"></div>
<div class="l" style="left:584px;top:1305px;width:109px"></div>
<div class="l" style="left:695px;top:1305px;width:109px"></div>
<div class="l" style="left:806px;top:1305px;width:96px"></div>
<div class="l" style="left:904px;top:1305px;width:104px"></div>
<div class="t" style="left:2px;top:1277px;width:61px">43</div>
<div class="fl" style="left:77px;top:1286px;width:14px;height:10px;overflow:hidden"><svg width="14" height="10" viewBox="0 0 14 10" style="display:block"><rect width="14" height="10" fill="#e3173e"/><polygon points="7,2.2 7.8,4.3 10,4.3 8.2,5.6 8.9,7.7 7,6.4 5.1,7.7 5.8,5.6 4,4.3 6.2,4.3" fill="#ffcc00"/></svg></div>
<div class="t" style="left:99px;top:1277px;text-align:left">IEPL<span class="c">越南</span> | <span class="c">原生</span></div>
<div class="t" style="left:235px;top:1277px;width:139px">Shadowsocks</div>
<div class="t" style="left:375px;top:1277px;width:92px">175ms</div>
<div class="t" style="left:468px;top:1277px;width:116px">551ms</div>
<div class="t" style="left:585px;top:1277px;width:109px">22.39MB</div>
<div class="t" style="left:696px;top:1277px;width:109px">29.93MB</div>
<div class="t" style="left:905px;top:1277px;width:104px">FullCone</div>
<div class="a" style="left:374px;top:1306px;width:92px;height:28px;background:#b4f6d4"></div>
<div class="a" style="left:467px;top:1306px;width:116px;height:28px;background:#9fe6be"></div>
<div class="a" style="left:584px;top:1306px;width:109px;height:28px;background:#f7d5c8"></div>
<div class="a" style="left:695px;top:1306px;width:109px;height:28px;background:#fbd1c9"></div>
<div class="a" style="left:806px;top:1331px;width:15px;height:3px;background:#fcd8cc"></div>
<div class="a" style="left:821px;top:1328px;width:16px;height:6px;background:#f9d3c9"></div>
<div class="a" style="left:837px;top:1329px;width:16px;height:5px;background:#f8d5c9"></div>
<div class="a" style="left:853px;top:1328px;width:16px;height:6px;background:#f9d3c9"></div>
<div class="a" style="left:869px;top:1328px;width:16px;height:6px;background:#fad2c9"></div>
<div class="a" style="left:885px;top:1329px;width:17px;height:5px;background:#f8d5c9"></div>
<div class="l" style="left:3px;top:1334px;width:61px"></div>
<div class="l" style="left:65px;top:1334px;width:168px"></div>
<div class="l" style="left:234px;top:1334px;width:139px"></div>
<div class="l" style="left:374px;top:1334px;width:92px"></div>
<div class="l" style="left:467px;top:1334px;width:116px"></div>
<div class="l" style="left:584px;top:1334px;width:109px"></div>
<div class="l" style="left:695px;top:1334px;width:109px"></div>
<div class="l" style="left:806px;top:1334px;width:96px"></div>
<div class="l" style="left:904px;top:1334px;width:104px"></div>
<div class="t" style="left:2px;top:1306px;width:61px">44</div>
<div class="fl" style="left:77px;top:1315px;width:14px;height:10px;overflow:hidden"><svg width="14" height="10" viewBox="0 0 14 10" style="display:block"><rect width="14" height="10" fill="#f0e6ea"/><rect y="0.00" width="14" height="0.72" fill="#dd7c97"/><rect y="1.43" width="14" height="0.72" fill="#dd7c97"/><rect y="2.86" width="14" height="0.72" fill="#dd7c97"/><rect y="4.29" width="14" height="0.72" fill="#dd7c97"/><rect y="5.72" width="14" height="0.72" fill="#dd7c97"/><rect y="7.15" width="14" height="0.72" fill="#dd7c97"/><rect y="8.58" width="14" height="0.72" fill="#dd7c97"/><rect width="7" height="5.7" fill="#1c2a7a"/><circle cx="3" cy="2.8" r="1.7" fill="#f5c400"/><circle cx="3.6" cy="2.8" r="1.4" fill="#1c2a7a"/><circle cx="5.3" cy="2.8" r="0.9" fill="#f5c400"/></svg></div>
<div class="t" style="left:99px;top:1306px;text-align:left"><span class="c">马来西亚</span> | <span class="c">住宅</span></div>
<div class="t" style="left:235px;top:1306px;width:139px">Shadowsocks</div>
<div class="t" style="left:375px;top:1306px;width:92px">156ms</div>
<div class="t" style="left:468px;top:1306px;width:116px">497ms</div>
<div class="t" style="left:585px;top:1306px;width:109px">10.25MB</div>
<div class="t" style="left:696px;top:1306px;width:109px">12.22MB</div>
<div class="t" style="left:905px;top:1306px;width:104px">FullCone</div>
<div class="a" style="left:374px;top:1335px;width:92px;height:28px;background:#a3e8c1"></div>
<div class="a" style="left:467px;top:1335px;width:116px;height:28px;background:#5a9a70"></div>
<div class="a" style="left:584px;top:1335px;width:109px;height:28px;background:#fddace"></div>
<div class="a" style="left:695px;top:1335px;width:109px;height:28px;background:#fddace"></div>
<div class="a" style="left:806px;top:1362px;width:15px;height:1px;background:#fddace"></div>
<div class="a" style="left:821px;top:1361px;width:16px;height:2px;background:#fdd9cd"></div>
<div class="a" style="left:837px;top:1362px;width:16px;height:1px;background:#fddace"></div>
<div class="a" style="left:853px;top:1362px;width:16px;height:1px;background:#fddace"></div>
<div class="l" style="left:3px;top:1363px;width:61px"></div>
<div class="l" style="left:65px;top:1363px;width:168px"></div>
<div class="l" style="left:234px;top:1363px;width:139px"></div>
<div class="l" style="left:374px;top:1363px;width:92px"></div>
<div class="l" style="left:467px;top:1363px;width:116px"></div>
<div class="l" style="left:584px;top:1363px;width:109px"></div>
<div class="l" style="left:695px;top:1363px;width:109px"></div>
<div class="l" style="left:806px;top:1363px;width:96px"></div>
<div class="l" style="left:904px;top:1363px;width:104px"></div>
<div class="t" style="left:2px;top:1335px;width:61px">45</div>
<div class="fl" style="left:77px;top:1344px;width:14px;height:10px;overflow:hidden"><svg width="14" height="10" viewBox="0 0 14 10" style="display:block"><rect width="14" height="10" fill="#f7b500"/><rect width="14" height="6.7" fill="#e0002a"/><rect width="14" height="3.3" fill="#111"/></svg></div>
<div class="t" style="left:99px;top:1335px;text-align:left"><span class="c">德国</span></div>
<div class="t" style="left:235px;top:1335px;width:139px">Shadowsocks</div>
<div class="t" style="left:375px;top:1335px;width:92px">405ms</div>
<div class="t" style="left:468px;top:1335px;width:116px">2285ms</div>
<div class="t" style="left:585px;top:1335px;width:109px">1.40MB</div>
<div class="t" style="left:696px;top:1335px;width:109px">2.75MB</div>
<div class="t" style="left:905px;top:1335px;width:104px;letter-spacing:0.7px;text-indent:0.7px">Unknown</div>
<div class="a" style="left:374px;top:1364px;width:92px;height:28px;background:#b1f5d1"></div>
<div class="a" style="left:467px;top:1364px;width:116px;height:28px;background:#9de2ba"></div>
<div class="a" style="left:584px;top:1364px;width:109px;height:28px;background:#ff94ba"></div>
<div class="a" style="left:695px;top:1364px;width:109px;height:28px;background:#ff87b4"></div>
<div class="a" style="left:806px;top:1370px;width:15px;height:22px;background:#ff99bb"></div>
<div class="a" style="left:821px;top:1364px;width:16px;height:28px;background:#ff88b5"></div>
<div class="a" style="left:837px;top:1370px;width:16px;height:22px;background:#ff99bb"></div>
<div class="a" style="left:853px;top:1368px;width:16px;height:24px;background:#ff95ba"></div>
<div class="a" style="left:869px;top:1370px;width:16px;height:22px;background:#ff98bb"></div>
<div class="a" style="left:885px;top:1370px;width:17px;height:22px;background:#ff98bb"></div>
<div class="l" style="left:3px;top:1392px;width:61px"></div>
<div class="l" style="left:65px;top:1392px;width:168px"></div>
<div class="l" style="left:234px;top:1392px;width:139px"></div>
<div class="l" style="left:374px;top:1392px;width:92px"></div>
<div class="l" style="left:467px;top:1392px;width:116px"></div>
<div class="l" style="left:584px;top:1392px;width:109px"></div>
<div class="l" style="left:695px;top:1392px;width:109px"></div>
<div class="l" style="left:806px;top:1392px;width:96px"></div>
<div class="l" style="left:904px;top:1392px;width:104px"></div>
<div class="t" style="left:2px;top:1364px;width:61px">46</div>
<div class="fl" style="left:77px;top:1373px;width:14px;height:10px;overflow:hidden"><svg width="14" height="10" viewBox="0 0 14 10" style="display:block"><rect width="14" height="10" fill="#f2f2f2"/><circle cx="7" cy="5" r="2.2" fill="#1f3ba0"/><path d="M4.8 5 A2.2 2.2 0 0 1 9.2 5 A1.1 1.1 0 0 1 7 5 A1.1 1.1 0 0 0 4.8 5Z" fill="#d8173d"/><rect x="1.5" y="1.3" width="2.2" height="1.6" fill="#555" transform="rotate(-35 2.6 2.1)"/><rect x="10.3" y="1.3" width="2.2" height="1.6" fill="#555" transform="rotate(35 11.4 2.1)"/><rect x="1.5" y="7.1" width="2.2" height="1.6" fill="#555" transform="rotate(35 2.6 7.9)"/><rect x="10.3" y="7.1" width="2.2" height="1.6" fill="#555" transform="rotate(-35 11.4 7.9)"/></svg></div>
<div class="t" style="left:99px;top:1364px;text-align:left"><span class="c">韩国</span></div>
<div class="t" style="left:235px;top:1364px;width:139px">Shadowsocks</div>
<div class="t" style="left:375px;top:1364px;width:92px">186ms</div>
<div class="t" style="left:468px;top:1364px;width:116px">629ms</div>
<div class="t" style="left:585px;top:1364px;width:109px">62.74MB</div>
<div class="t" style="left:696px;top:1364px;width:109px">74.12MB</div>
<div class="t" style="left:905px;top:1364px;width:104px;letter-spacing:0.7px;text-indent:0.7px">Unknown</div>
<div class="a" style="left:374px;top:1393px;width:92px;height:28px;background:#a7eec6"></div>
<div class="a" style="left:467px;top:1393px;width:116px;height:28px;background:#82cc9f"></div>
<div class="a" style="left:584px;top:1393px;width:109px;height:28px;background:#ff9dbc"></div>
<div class="a" style="left:695px;top:1393px;width:109px;height:28px;background:#ff86b4"></div>
<div class="a" style="left:806px;top:1417px;width:15px;height:4px;background:#f8d4c8"></div>
<div class="a" style="left:821px;top:1397px;width:16px;height:24px;background:#ff93b9"></div>
<div class="a" style="left:837px;top:1393px;width:16px;height:28px;background:#ff87b4"></div>
<div class="a" style="left:853px;top:1396px;width:16px;height:25px;background:#ff90b8"></div>
<div class="a" style="left:869px;top:1397px;width:16px;height:24px;background:#ff93b9"></div>
<div class="a" style="left:885px;top:1406px;width:17px;height:15px;background:#ffabc2"></div>
<div class="l" style="left:3px;top:1421px;width:61px"></div>
<div class="l" style="left:65px;top:1421px;width:168px"></div>
<div class="l" style="left:234px;top:1421px;width:139px"></div>
<div class="l" style="left:374px;top:1421px;width:92px"></div>
<div class="l" style="left:467px;top:1421px;width:116px"></div>
<div class="l" style="left:584px;top:1421px;width:109px"></div>
<div class="l" style="left:695px;top:1421px;width:109px"></div>
<div class="l" style="left:806px;top:1421px;width:96px"></div>
<div class="l" style="left:904px;top:1421px;width:104px"></div>
<div class="t" style="left:2px;top:1393px;width:61px">47</div>
<div class="fl" style="left:77px;top:1402px;width:14px;height:10px;overflow:hidden"><svg width="14" height="10" viewBox="0 0 14 10" style="display:block"><rect width="14" height="10" fill="#f4f4f4"/><rect width="3.5" height="10" fill="#e3173e"/><rect x="10.5" width="3.5" height="10" fill="#e3173e"/><polygon points="7,2.3 8.3,4 9.4,3.8 8.8,6 7.3,6.2 7.3,7.5 6.7,7.5 6.7,6.2 5.2,6 4.6,3.8 5.7,4" fill="#e3173e"/></svg></div>
<div class="t" style="left:99px;top:1393px;text-align:left"><span class="c">加拿大</span></div>
<div class="t" style="left:235px;top:1393px;width:139px">Shadowsocks</div>
<div class="t" style="left:375px;top:1393px;width:92px">325ms</div>
<div class="t" style="left:468px;top:1393px;width:116px">1079ms</div>
<div class="t" style="left:585px;top:1393px;width:109px">54.41MB</div>
<div class="t" style="left:696px;top:1393px;width:109px">74.79MB</div>
<div class="t" style="left:905px;top:1393px;width:104px">FullCone</div>
<div class="a" style="left:374px;top:1422px;width:92px;height:28px;background:#b3f6d3"></div>
<div class="a" style="left:467px;top:1422px;width:116px;height:28px;background:#9be6bc"></div>
<div class="a" style="left:584px;top:1422px;width:109px;height:28px;background:#ffb7c7"></div>
<div class="a" style="left:695px;top:1422px;width:109px;height:28px;background:#ffa7c0"></div>
<div class="a" style="left:806px;top:1449px;width:15px;height:1px;background:#fddace"></div>
<div class="a" style="left:821px;top:1434px;width:16px;height:16px;background:#ffbbc8"></div>
<div class="a" style="left:837px;top:1426px;width:16px;height:24px;background:#ffa7c0"></div>
<div class="a" style="left:853px;top:1427px;width:16px;height:23px;background:#ffa9c1"></div>
<div class="a" style="left:869px;top:1426px;width:16px;height:24px;background:#ffa7c0"></div>
<div class="a" style="left:885px;top:1432px;width:17px;height:18px;background:#ffb5c6"></div>
<div class="l" style="left:3px;top:1450px;width:61px"></div>
<div class="l" style="left:65px;top:1450px;width:168px"></div>
<div class="l" style="left:234px;top:1450px;width:139px"></div>
<div class="l" style="left:374px;top:1450px;width:92px"></div>
<div class="l" style="left:467px;top:1450px;width:116px"></div>
<div class="l" style="left:584px;top:1450px;width:109px"></div>
<div class="l" style="left:695px;top:1450px;width:109px"></div>
<div class="l" style="left:806px;top:1450px;width:96px"></div>
<div class="l" style="left:904px;top:1450px;width:104px"></div>
<div class="t" style="left:2px;top:1422px;width:61px">48</div>
<div class="fl" style="left:77px;top:1431px;width:14px;height:10px;overflow:hidden"><svg width="14" height="10" viewBox="0 0 14 10" style="display:block"><rect width="14" height="10" fill="#ececec"/><rect width="14" height="5" fill="#e3173e"/></svg></div>
<div class="t" style="left:99px;top:1422px;text-align:left"><span class="c">印度尼西亚</span></div>
<div class="t" style="left:235px;top:1422px;width:139px">Shadowsocks</div>
<div class="t" style="left:375px;top:1422px;width:92px">174ms</div>
<div class="t" style="left:468px;top:1422px;width:116px">573ms</div>
<div class="t" style="left:585px;top:1422px;width:109px">32.34MB</div>
<div class="t" style="left:696px;top:1422px;width:109px">44.33MB</div>
<div class="t" style="left:905px;top:1422px;width:104px;letter-spacing:0.7px;text-indent:0.7px">Unknown</div>
<div class="a" style="left:374px;top:1451px;width:92px;height:28px;background:#aaf2ca"></div>
<div class="a" style="left:467px;top:1451px;width:116px;height:28px;background:#91d6ac"></div>
<div class="a" style="left:584px;top:1451px;width:109px;height:28px;background:#ff64a7"></div>
<div class="a" style="left:695px;top:1451px;width:109px;height:28px;background:#fc3b9e"></div>
<div class="a" style="left:806px;top:1477px;width:15px;height:2px;background:#f9d6c9"></div>
<div class="a" style="left:821px;top:1456px;width:16px;height:23px;background:#ff52a3"></div>
<div class="a" style="left:837px;top:1453px;width:16px;height:26px;background:#fd439f"></div>
<div class="a" style="left:853px;top:1451px;width:16px;height:28px;background:#fc3c9e"></div>
<div class="a" style="left:869px;top:1457px;width:16px;height:22px;background:#ff5ca5"></div>
<div class="a" style="left:885px;top:1460px;width:17px;height:19px;background:#ff69a9"></div>
<div class="l" style="left:3px;top:1479px;width:61px"></div>
<div class="l" style="left:65px;top:1479px;width:168px"></div>
<div class="l" style="left:234px;top:1479px;width:139px"></div>
<div class="l" style="left:374px;top:1479px;width:92px"></div>
<div class="l" style="left:467px;top:1479px;width:116px"></div>
<div class="l" style="left:584px;top:1479px;width:109px"></div>
<div class="l" style="left:695px;top:1479px;width:109px"></div>
<div class="l" style="left:806px;top:1479px;width:96px"></div>
<div class="l" style="left:904px;top:1479px;width:104px"></div>
<div class="t" style="left:2px;top:1451px;width:61px">49</div>
<div class="fl" style="left:77px;top:1460px;width:14px;height:10px;overflow:hidden"><svg width="14" height="10" viewBox="0 0 14 10" style="display:block"><rect width="14" height="10" fill="#f2f2f2"/><rect width="4.67" height="10" fill="#3f8b58"/><rect x="9.33" width="4.67" height="10" fill="#d62c45"/></svg></div>
<div class="t" style="left:99px;top:1451px;text-align:left"><span class="c">意大利</span></div>
<div class="t" style="left:235px;top:1451px;width:139px">Shadowsocks</div>
<div class="t" style="left:375px;top:1451px;width:92px">269ms</div>
<div class="t" style="left:468px;top:1451px;width:116px">855ms</div>
<div class="t" style="left:585px;top:1451px;width:109px">101.81MB</div>
<div class="t" style="left:696px;top:1451px;width:109px">141.16MB</div>
<div class="t" style="left:905px;top:1451px;width:104px">FullCone</div>
<div class="a" style="left:374px;top:1480px;width:92px;height:28px;background:#a8efc7"></div>
<div class="a" style="left:467px;top:1480px;width:116px;height:28px;background:#89d1a6"></div>
<div class="a" style="left:584px;top:1480px;width:109px;height:28px;background:#fdd9cd"></div>
<div class="a" style="left:695px;top:1480px;width:109px;height:28px;background:#fdd9cd"></div>
<div class="a" style="left:806px;top:1507px;width:15px;height:1px;background:#fddace"></div>
<div class="a" style="left:821px;top:1506px;width:16px;height:2px;background:#fdd9cd"></div>
<div class="a" style="left:837px;top:1506px;width:16px;height:2px;background:#fdd9cd"></div>
<div class="a" style="left:853px;top:1506px;width:16px;height:2px;background:#fdd9cd"></div>
<div class="a" style="left:869px;top:1506px;width:16px;height:2px;background:#fdd9cd"></div>
<div class="a" style="left:885px;top:1507px;width:17px;height:1px;background:#fddace"></div>
<div class="l" style="left:3px;top:1508px;width:61px"></div>
<div class="l" style="left:65px;top:1508px;width:168px"></div>
<div class="l" style="left:234px;top:1508px;width:139px"></div>
<div class="l" style="left:374px;top:1508px;width:92px"></div>
<div class="l" style="left:467px;top:1508px;width:116px"></div>
<div class="l" style="left:584px;top:1508px;width:109px"></div>
<div class="l" style="left:695px;top:1508px;width:109px"></div>
<div class="l" style="left:806px;top:1508px;width:96px"></div>
<div class="l" style="left:904px;top:1508px;width:104px"></div>
<div class="t" style="left:2px;top:1480px;width:61px">50</div>
<div class="fl" style="left:77px;top:1489px;width:14px;height:10px;overflow:hidden"><svg width="14" height="10" viewBox="0 0 14 10" style="display:block"><rect width="14" height="10" fill="#f2f2f2"/><rect width="4.67" height="10" fill="#1f2f98"/><rect x="9.33" width="4.67" height="10" fill="#e3173e"/></svg></div>
<div class="t" style="left:99px;top:1480px;text-align:left"><span class="c">法国</span></div>
<div class="t" style="left:235px;top:1480px;width:139px">Shadowsocks</div>
<div class="t" style="left:375px;top:1480px;width:92px">310ms</div>
<div class="t" style="left:468px;top:1480px;width:116px">973ms</div>
<div class="t" style="left:585px;top:1480px;width:109px">3.39MB</div>
<div class="t" style="left:696px;top:1480px;width:109px">4.22MB</div>
<div class="t" style="left:905px;top:1480px;width:104px;letter-spacing:0.7px;text-indent:0.7px">Unknown</div>
<div class="a" style="left:374px;top:1509px;width:92px;height:28px;background:#abf2cb"></div>
<div class="a" style="left:467px;top:1509px;width:116px;height:28px;background:#92d7ad"></div>
<div class="a" style="left:584px;top:1509px;width:109px;height:28px;background:#ffa9c1"></div>
<div class="a" style="left:695px;top:1509px;width:109px;height:28px;background:#ff9abb"></div>
<div class="a" style="left:806px;top:1532px;width:15px;height:5px;background:#f7d5c8"></div>
<div class="a" style="left:821px;top:1516px;width:16px;height:21px;background:#ffa8c1"></div>
<div class="a" style="left:837px;top:1509px;width:16px;height:28px;background:#ff9abb"></div>
<div class="a" style="left:853px;top:1512px;width:16px;height:25px;background:#ffa0bd"></div>
<div class="a" style="left:869px;top:1512px;width:16px;height:25px;background:#ffa0bd"></div>
<div class="a" style="left:885px;top:1517px;width:17px;height:20px;background:#ffabc2"></div>
<div class="l" style="left:3px;top:1537px;width:61px"></div>
<div class="l" style="left:65px;top:1537px;width:168px"></div>
<div class="l" style="left:234px;top:1537px;width:139px"></div>
<div class="l" style="left:374px;top:1537px;width:92px"></div>
<div class="l" style="left:467px;top:1537px;width:116px"></div>
<div class="l" style="left:584px;top:1537px;width:109px"></div>
<div class="l" style="left:695px;top:1537px;width:109px"></div>
<div class="l" style="left:806px;top:1537px;width:96px"></div>
<div class="l" style="left:904px;top:1537px;width:104px"></div>
<div class="t" style="left:2px;top:1509px;width:61px">51</div>
<div class="fl" style="left:77px;top:1518px;width:14px;height:10px;overflow:hidden"><svg width="14" height="10" viewBox="0 0 14 10" style="display:block"><rect width="14" height="10" fill="#e3173e"/><rect y="2.5" width="14" height="5" fill="#f7b500"/><rect x="3" y="3.6" width="2" height="2.2" fill="#c54a62"/></svg></div>
<div class="t" style="left:99px;top:1509px;text-align:left"><span class="c">西班牙</span></div>
<div class="t" style="left:235px;top:1509px;width:139px">Shadowsocks</div>
<div class="t" style="left:375px;top:1509px;width:92px">263ms</div>
<div class="t" style="left:468px;top:1509px;width:116px">835ms</div>
<div class="t" style="left:585px;top:1509px;width:109px">43.21MB</div>
<div class="t" style="left:696px;top:1509px;width:109px">57.15MB</div>
<div class="t" style="left:905px;top:1509px;width:104px">FullCone</div>
<div class="a" style="left:374px;top:1538px;width:92px;height:28px;background:#a1e7c0"></div>
<div class="a" style="left:467px;top:1538px;width:116px;height:28px;background:#76be92"></div>
<div class="a" style="left:584px;top:1538px;width:109px;height:28px;background:#ffbcc8"></div>
<div class="a" style="left:695px;top:1538px;width:109px;height:28px;background:#ffa4bf"></div>
<div class="a" style="left:806px;top:1565px;width:15px;height:1px;background:#fddace"></div>
<div class="a" style="left:821px;top:1554px;width:16px;height:12px;background:#ffc8ca"></div>
<div class="a" style="left:837px;top:1540px;width:16px;height:26px;background:#ffa4bf"></div>
<div class="a" style="left:853px;top:1540px;width:16px;height:26px;background:#ffa4bf"></div>
<div class="a" style="left:869px;top:1541px;width:16px;height:25px;background:#ffa5bf"></div>
<div class="a" style="left:885px;top:1560px;width:17px;height:6px;background:#fad2c9"></div>
<div class="l" style="left:3px;top:1566px;width:61px"></div>
<div class="l" style="left:65px;top:1566px;width:168px"></div>
<div class="l" style="left:234px;top:1566px;width:139px"></div>
<div class="l" style="left:374px;top:1566px;width:92px"></div>
<div class="l" style="left:467px;top:1566px;width:116px"></div>
<div class="l" style="left:584px;top:1566px;width:109px"></div>
<div class="l" style="left:695px;top:1566px;width:109px"></div>
<div class="l" style="left:806px;top:1566px;width:96px"></div>
<div class="l" style="left:904px;top:1566px;width:104px"></div>
<div class="t" style="left:2px;top:1538px;width:61px">52</div>
<div class="fl" style="left:77px;top:1547px;width:14px;height:10px;overflow:hidden"><svg width="14" height="10" viewBox="0 0 14 10" style="display:block"><rect width="14" height="10" fill="#e3173e"/><circle cx="5.4" cy="5" r="2.7" fill="#fff"/><circle cx="6.1" cy="5" r="2.1" fill="#e3173e"/><circle cx="9" cy="5" r="0.9" fill="#fff"/></svg></div>
<div class="t" style="left:99px;top:1538px;text-align:left"><span class="c">土耳其</span></div>
<div class="t" style="left:235px;top:1538px;width:139px">Shadowsocks</div>
<div class="t" style="left:375px;top:1538px;width:92px">447ms</div>
<div class="t" style="left:468px;top:1538px;width:116px">1370ms</div>
<div class="t" style="left:585px;top:1538px;width:109px">28.83MB</div>
<div class="t" style="left:696px;top:1538px;width:109px">47.05MB</div>
<div class="t" style="left:905px;top:1538px;width:104px">FullCone</div>
<div class="a" style="left:374px;top:1567px;width:92px;height:28px;background:#aef5ce"></div>
<div class="a" style="left:467px;top:1567px;width:116px;height:28px;background:#92d8ae"></div>
<div class="a" style="left:584px;top:1567px;width:109px;height:28px;background:#ff9ebd"></div>
<div class="a" style="left:695px;top:1567px;width:109px;height:28px;background:#ff8bb6"></div>
<div class="a" style="left:806px;top:1587px;width:15px;height:8px;background:#fec9ca"></div>
<div class="a" style="left:821px;top:1567px;width:16px;height:28px;background:#ff8cb7"></div>
<div class="a" style="left:837px;top:1570px;width:16px;height:25px;background:#ff94b9"></div>
<div class="a" style="left:853px;top:1572px;width:16px;height:23px;background:#ff99bb"></div>
<div class="a" style="left:869px;top:1570px;width:16px;height:25px;background:#ff94b9"></div>
<div class="a" style="left:885px;top:1581px;width:17px;height:14px;background:#ffb4c5"></div>
<div class="l" style="left:3px;top:1595px;width:61px"></div>
<div class="l" style="left:65px;top:1595px;width:168px"></div>
<div class="l" style="left:234px;top:1595px;width:139px"></div>
<div class="l" style="left:374px;top:1595px;width:92px"></div>
<div class="l" style="left:467px;top:1595px;width:116px"></div>
<div class="l" style="left:584px;top:1595px;width:109px"></div>
<div class="l" style="left:695px;top:1595px;width:109px"></div>
<div class="l" style="left:806px;top:1595px;width:96px"></div>
<div class="l" style="left:904px;top:1595px;width:104px"></div>
<div class="t" style="left:2px;top:1567px;width:61px">53</div>
<div class="fl" style="left:77px;top:1576px;width:14px;height:10px;overflow:hidden"><svg width="14" height="10" viewBox="0 0 14 10" style="display:block"><rect width="14" height="10" fill="#111"/><rect width="14" height="6.7" fill="#f4f4f4"/><rect width="14" height="3.3" fill="#3d7650"/><rect width="3.8" height="10" fill="#e3173e"/></svg></div>
<div class="t" style="left:99px;top:1567px;text-align:left"><span class="c">迪拜</span></div>
<div class="t" style="left:235px;top:1567px;width:139px">Shadowsocks</div>
<div class="t" style="left:375px;top:1567px;width:92px">226ms</div>
<div class="t" style="left:468px;top:1567px;width:116px">815ms</div>
<div class="t" style="left:585px;top:1567px;width:109px">52.72MB</div>
<div class="t" style="left:696px;top:1567px;width:109px">70.55MB</div>
<div class="t" style="left:905px;top:1567px;width:104px">FullCone</div>
<div class="a" style="left:374px;top:1596px;width:92px;height:28px;background:#a9f1c9"></div>
<div class="a" style="left:467px;top:1596px;width:116px;height:28px;background:#90d6ac"></div>
<div class="a" style="left:584px;top:1596px;width:109px;height:28px;background:#ff93b9"></div>
<div class="a" style="left:695px;top:1596px;width:109px;height:28px;background:#ff78ae"></div>
<div class="a" style="left:806px;top:1622px;width:15px;height:2px;background:#fcd8cc"></div>
<div class="a" style="left:821px;top:1607px;width:16px;height:17px;background:#ffa0bd"></div>
<div class="a" style="left:837px;top:1598px;width:16px;height:26px;background:#ff81b2"></div>
<div class="a" style="left:853px;top:1597px;width:16px;height:27px;background:#ff7baf"></div>
<div class="a" style="left:869px;top:1596px;width:16px;height:28px;background:#ff79ae"></div>
<div class="a" style="left:885px;top:1600px;width:17px;height:24px;background:#ff88b5"></div>
<div class="l" style="left:3px;top:1624px;width:61px"></div>
<div class="l" style="left:65px;top:1624px;width:168px"></div>
<div class="l" style="left:234px;top:1624px;width:139px"></div>
<div class="l" style="left:374px;top:1624px;width:92px"></div>
<div class="l" style="left:467px;top:1624px;width:116px"></div>
<div class="l" style="left:584px;top:1624px;width:109px"></div>
<div class="l" style="left:695px;top:1624px;width:109px"></div>
<div class="l" style="left:806px;top:1624px;width:96px"></div>
<div class="l" style="left:904px;top:1624px;width:104px"></div>
<div class="t" style="left:2px;top:1596px;width:61px">54</div>
<div class="fl" style="left:77px;top:1605px;width:14px;height:10px;overflow:hidden"><svg width="14" height="10" viewBox="0 0 14 10" style="display:block"><rect width="14" height="10" fill="#1f2f98"/><path d="M0 0L14 10M14 0L0 10" stroke="#fff" stroke-width="2.2"/><path d="M0 0L14 10M14 0L0 10" stroke="#e3173e" stroke-width="0.8"/><path d="M7 0V10M0 5H14" stroke="#fff" stroke-width="3.2"/><path d="M7 0V10M0 5H14" stroke="#e3173e" stroke-width="1.8"/></svg></div>
<div class="t" style="left:99px;top:1596px;text-align:left"><span class="c">英国</span></div>
<div class="t" style="left:235px;top:1596px;width:139px">Shadowsocks</div>
<div class="t" style="left:375px;top:1596px;width:92px">283ms</div>
<div class="t" style="left:468px;top:1596px;width:116px">860ms</div>
<div class="t" style="left:585px;top:1596px;width:109px">64.42MB</div>
<div class="t" style="left:696px;top:1596px;width:109px">85.50MB</div>
<div class="t" style="left:905px;top:1596px;width:104px">FullCone</div>
<div class="a" style="left:374px;top:1625px;width:92px;height:28px;background:#aaf2ca"></div>
<div class="a" style="left:467px;top:1625px;width:116px;height:28px;background:#91d6ac"></div>
<div class="a" style="left:584px;top:1625px;width:109px;height:28px;background:#ff98bb"></div>
<div class="a" style="left:695px;top:1625px;width:109px;height:28px;background:#ff7db0"></div>
<div class="a" style="left:806px;top:1651px;width:15px;height:2px;background:#fbd8cc"></div>
<div class="a" style="left:821px;top:1633px;width:16px;height:20px;background:#ff9abb"></div>
<div class="a" style="left:837px;top:1625px;width:16px;height:28px;background:#ff7eb0"></div>
<div class="a" style="left:853px;top:1630px;width:16px;height:23px;background:#ff90b8"></div>
<div class="a" style="left:869px;top:1629px;width:16px;height:24px;background:#ff8cb7"></div>
<div class="a" style="left:885px;top:1631px;width:17px;height:22px;background:#ff94ba"></div>
<div class="l" style="left:3px;top:1653px;width:61px"></div>
<div class="l" style="left:65px;top:1653px;width:168px"></div>
<div class="l" style="left:234px;top:1653px;width:139px"></div>
<div class="l" style="left:374px;top:1653px;width:92px"></div>
<div class="l" style="left:467px;top:1653px;width:116px"></div>
<div class="l" style="left:584px;top:1653px;width:109px"></div>
<div class="l" style="left:695px;top:1653px;width:109px"></div>
<div class="l" style="left:806px;top:1653px;width:96px"></div>
<div class="l" style="left:904px;top:1653px;width:104px"></div>
<div class="t" style="left:2px;top:1625px;width:61px">55</div>
<div class="fl" style="left:77px;top:1634px;width:14px;height:10px;overflow:hidden"><svg width="14" height="10" viewBox="0 0 14 10" style="display:block"><rect width="14" height="10" fill="#1f3c9a"/><rect width="14" height="6.7" fill="#f2f2f2"/><rect width="14" height="3.3" fill="#c9203e"/></svg></div>
<div class="t" style="left:99px;top:1625px;text-align:left"><span class="c">荷兰</span></div>
<div class="t" style="left:235px;top:1625px;width:139px">Shadowsocks</div>
<div class="t" style="left:375px;top:1625px;width:92px">276ms</div>
<div class="t" style="left:468px;top:1625px;width:116px">857ms</div>
<div class="t" style="left:585px;top:1625px;width:109px">59.01MB</div>
<div class="t" style="left:696px;top:1625px;width:109px">81.99MB</div>
<div class="t" style="left:905px;top:1625px;width:104px;letter-spacing:0.7px;text-indent:0.7px">Unknown</div>
<div class="a" style="left:374px;top:1654px;width:92px;height:28px;background:#b1f5d1"></div>
<div class="a" style="left:467px;top:1654px;width:116px;height:28px;background:#9ce0b9"></div>
<div class="a" style="left:584px;top:1654px;width:109px;height:28px;background:#ff81b2"></div>
<div class="a" style="left:695px;top:1654px;width:109px;height:28px;background:#ff70aa"></div>
<div class="a" style="left:806px;top:1671px;width:15px;height:11px;background:#ffb2c5"></div>
<div class="a" style="left:821px;top:1658px;width:16px;height:24px;background:#ff83b3"></div>
<div class="a" style="left:837px;top:1655px;width:16px;height:27px;background:#ff76ad"></div>
<div class="a" style="left:853px;top:1654px;width:16px;height:28px;background:#ff71ab"></div>
<div class="a" style="left:869px;top:1655px;width:16px;height:27px;background:#ff73ac"></div>
<div class="a" style="left:885px;top:1657px;width:17px;height:25px;background:#ff7db0"></div>
<div class="l" style="left:3px;top:1682px;width:61px"></div>
<div class="l" style="left:65px;top:1682px;width:168px"></div>
<div class="l" style="left:234px;top:1682px;width:139px"></div>
<div class="l" style="left:374px;top:1682px;width:92px"></div>
<div class="l" style="left:467px;top:1682px;width:116px"></div>
<div class="l" style="left:584px;top:1682px;width:109px"></div>
<div class="l" style="left:695px;top:1682px;width:109px"></div>
<div class="l" style="left:806px;top:1682px;width:96px"></div>
<div class="l" style="left:904px;top:1682px;width:104px"></div>
<div class="t" style="left:2px;top:1654px;width:61px">56</div>
<div class="fl" style="left:77px;top:1663px;width:14px;height:10px;overflow:hidden"><svg width="14" height="10" viewBox="0 0 14 10" style="display:block"><rect width="14" height="10" fill="#3d6b47"/><rect width="14" height="6.7" fill="#f4f4f4"/><rect width="14" height="3.3" fill="#f7a21b"/><circle cx="7" cy="5" r="1.3" fill="none" stroke="#26358c" stroke-width="0.7"/></svg></div>
<div class="t" style="left:99px;top:1654px;text-align:left"><span class="c">印度</span></div>
<div class="t" style="left:235px;top:1654px;width:139px">Shadowsocks</div>
<div class="t" style="left:375px;top:1654px;width:92px">190ms</div>
<div class="t" style="left:468px;top:1654px;width:116px">659ms</div>
<div class="t" style="left:585px;top:1654px;width:109px">78.42MB</div>
<div class="t" style="left:696px;top:1654px;width:109px">91.71MB</div>
<div class="t" style="left:905px;top:1654px;width:104px">FullCone</div>
<div class="a" style="left:374px;top:1683px;width:92px;height:28px;background:#a9f1c9"></div>
<div class="a" style="left:467px;top:1683px;width:116px;height:28px;background:#91d6ac"></div>
<div class="a" style="left:584px;top:1683px;width:109px;height:28px;background:#ff6eaa"></div>
<div class="a" style="left:695px;top:1683px;width:109px;height:28px;background:#fc3c9e"></div>
<div class="a" style="left:806px;top:1710px;width:15px;height:1px;background:#fdd9cd"></div>
<div class="a" style="left:821px;top:1696px;width:16px;height:15px;background:#ff84b3"></div>
<div class="a" style="left:837px;top:1690px;width:16px;height:21px;background:#ff62a7"></div>
<div class="a" style="left:853px;top:1684px;width:16px;height:27px;background:#fd409f"></div>
<div class="a" style="left:869px;top:1684px;width:16px;height:27px;background:#fd409f"></div>
<div class="a" style="left:885px;top:1694px;width:17px;height:17px;background:#ff77ad"></div>
<div class="l" style="left:3px;top:1711px;width:61px"></div>
<div class="l" style="left:65px;top:1711px;width:168px"></div>
<div class="l" style="left:234px;top:1711px;width:139px"></div>
<div class="l" style="left:374px;top:1711px;width:92px"></div>
<div class="l" style="left:467px;top:1711px;width:116px"></div>
<div class="l" style="left:584px;top:1711px;width:109px"></div>
<div class="l" style="left:695px;top:1711px;width:109px"></div>
<div class="l" style="left:806px;top:1711px;width:96px"></div>
<div class="l" style="left:904px;top:1711px;width:104px"></div>
<div class="t" style="left:2px;top:1683px;width:61px">57</div>
<div class="fl" style="left:77px;top:1692px;width:14px;height:10px;overflow:hidden"><svg width="14" height="10" viewBox="0 0 14 10" style="display:block"><rect width="14" height="10" fill="#f2f2f2"/><rect width="4.67" height="10" fill="#3f8b58"/><rect x="9.33" width="4.67" height="10" fill="#f4907c"/></svg></div>
<div class="t" style="left:99px;top:1683px;text-align:left"><span class="c">爱尔兰</span></div>
<div class="t" style="left:235px;top:1683px;width:139px">Shadowsocks</div>
<div class="t" style="left:375px;top:1683px;width:92px">281ms</div>
<div class="t" style="left:468px;top:1683px;width:116px">853ms</div>
<div class="t" style="left:585px;top:1683px;width:109px">93.69MB</div>
<div class="t" style="left:696px;top:1683px;width:109px">139.52MB</div>
<div class="t" style="left:905px;top:1683px;width:104px">FullCone</div>
<div class="a" style="left:3px;top:1712px;width:1005px;height:84px;background:#eaeaea"></div>
<div class="l" style="left:3px;top:1740px;width:1005px"></div>
<div class="l" style="left:3px;top:1769px;width:1005px"></div>
<div class="a" style="left:13px;top:1719px;width:14px;height:14px;box-sizing:border-box;background:#67b182;border:1.5px solid #529d6c;border-radius:1.5px"></div>
<svg class="a" style="left:13px;top:1719px" width="14" height="14" viewBox="0 0 14 14"><path d="M2.6 7.9L5.6 10.4L11.6 2.6" fill="none" stroke="#fff" stroke-width="2"/></svg>
<div class="t" style="left:35px;top:1712px;text-align:left;letter-spacing:-0.14px"><span class="c">已核实</span> TLS <span class="c">证书。</span>TLS RTT <span class="c">为单次数据交换延迟，</span> HTTPS Ping <span class="c">为单次请求体感延迟。</span></div>
<div class="t" style="left:9px;top:1742px;text-align:left;letter-spacing:0.19px"><span class="c">主端</span>=4.3.3 (697) <span class="c">喵速</span>=4.3.6-Meta (&#xE000;<span class="c">东北</span>-<span class="c">辽宁联通</span> [1Gbps]), <span class="c">线程</span>=8 <span class="c">概要</span>=57/57 <span class="c">排序</span>=<span class="c">订阅原序</span> <span class="c">过滤器</span>=</div>
<div class="t" style="left:9px;top:1771px;text-align:left;letter-spacing:0.1px"><span class="c">测试时间：</span>2024-11-12 02:22:15 (CST)<span class="c">，本测试为试验性结果，仅供参考。</span></div>
<svg class="a" style="left:0;top:0" width="1011" height="1799" viewBox="0 0 1011 1799"><text x="261.3 284.1 306.9 342.2 353.0 374.2 405.8 418.5 445.8 472.0 500.0 510.9 521.9 544.2 557.0 581.9 606.7 626.7 642.3 655.0 685.2 710.0 736.2 751.8 776.6" y="83.8" transform="rotate(-15 261.3 83.8)" font-family="Liberation Sans, sans-serif" font-size="46" fill="#000" fill-opacity="0.2">FFQ.LA Public Test Center</text><text x="261.3 284.1 306.9 342.2 353.0 374.2 405.8 418.5 445.8 472.0 500.0 510.9 521.9 544.2 557.0 581.9 606.7 626.7 642.3 655.0 685.2 710.0 736.2 751.8 776.6" y="239.1" transform="rotate(-15 261.3 239.1)" font-family="Liberation Sans, sans-serif" font-size="46" fill="#000" fill-opacity="0.2">FFQ.LA Public Test Center</text><text x="261.3 284.1 306.9 342.2 353.0 374.2 405.8 418.5 445.8 472.0 500.0 510.9 521.9 544.2 557.0 581.9 606.7 626.7 642.3 655.0 685.2 710.0 736.2 751.8 776.6" y="394.4" transform="rotate(-15 261.3 394.4)" font-family="Liberation Sans, sans-serif" font-size="46" fill="#000" fill-opacity="0.2">FFQ.LA Public Test Center</text><text x="261.3 284.1 306.9 342.2 353.0 374.2 405.8 418.5 445.8 472.0 500.0 510.9 521.9 544.2 557.0 581.9 606.7 626.7 642.3 655.0 685.2 710.0 736.2 751.8 776.6" y="549.7" transform="rotate(-15 261.3 549.7)" font-family="Liberation Sans, sans-serif" font-size="46" fill="#000" fill-opacity="0.2">FFQ.LA Public Test Center</text><text x="261.3 284.1 306.9 342.2 353.0 374.2 405.8 418.5 445.8 472.0 500.0 510.9 521.9 544.2 557.0 581.9 606.7 626.7 642.3 655.0 685.2 710.0 736.2 751.8 776.6" y="705.0" transform="rotate(-15 261.3 705.0)" font-family="Liberation Sans, sans-serif" font-size="46" fill="#000" fill-opacity="0.2">FFQ.LA Public Test Center</text><text x="261.3 284.1 306.9 342.2 353.0 374.2 405.8 418.5 445.8 472.0 500.0 510.9 521.9 544.2 557.0 581.9 606.7 626.7 642.3 655.0 685.2 710.0 736.2 751.8 776.6" y="860.3" transform="rotate(-15 261.3 860.3)" font-family="Liberation Sans, sans-serif" font-size="46" fill="#000" fill-opacity="0.2">FFQ.LA Public Test Center</text><text x="261.3 284.1 306.9 342.2 353.0 374.2 405.8 418.5 445.8 472.0 500.0 510.9 521.9 544.2 557.0 581.9 606.7 626.7 642.3 655.0 685.2 710.0 736.2 751.8 776.6" y="1015.6" transform="rotate(-15 261.3 1015.6)" font-family="Liberation Sans, sans-serif" font-size="46" fill="#000" fill-opacity="0.2">FFQ.LA Public Test Center</text><text x="261.3 284.1 306.9 342.2 353.0 374.2 405.8 418.5 445.8 472.0 500.0 510.9 521.9 544.2 557.0 581.9 606.7 626.7 642.3 655.0 685.2 710.0 736.2 751.8 776.6" y="1170.9" transform="rotate(-15 261.3 1170.9)" font-family="Liberation Sans, sans-serif" font-size="46" fill="#000" fill-opacity="0.2">FFQ.LA Public Test Center</text><text x="261.3 284.1 306.9 342.2 353.0 374.2 405.8 418.5 445.8 472.0 500.0 510.9 521.9 544.2 557.0 581.9 606.7 626.7 642.3 655.0 685.2 710.0 736.2 751.8 776.6" y="1326.2" transform="rotate(-15 261.3 1326.2)" font-family="Liberation Sans, sans-serif" font-size="46" fill="#000" fill-opacity="0.2">FFQ.LA Public Test Center</text><text x="261.3 284.1 306.9 342.2 353.0 374.2 405.8 418.5 445.8 472.0 500.0 510.9 521.9 544.2 557.0 581.9 606.7 626.7 642.3 655.0 685.2 710.0 736.2 751.8 776.6" y="1481.5" transform="rotate(-15 261.3 1481.5)" font-family="Liberation Sans, sans-serif" font-size="46" fill="#000" fill-opacity="0.2">FFQ.LA Public Test Center</text><text x="261.3 284.1 306.9 342.2 353.0 374.2 405.8 418.5 445.8 472.0 500.0 510.9 521.9 544.2 557.0 581.9 606.7 626.7 642.3 655.0 685.2 710.0 736.2 751.8 776.6" y="1636.8" transform="rotate(-15 261.3 1636.8)" font-family="Liberation Sans, sans-serif" font-size="46" fill="#000" fill-opacity="0.2">FFQ.LA Public Test Center</text><text x="261.3 284.1 306.9 342.2 353.0 374.2 405.8 418.5 445.8 472.0 500.0 510.9 521.9 544.2 557.0 581.9 606.7 626.7 642.3 655.0 685.2 710.0 736.2 751.8 776.6" y="1792.1" transform="rotate(-15 261.3 1792.1)" font-family="Liberation Sans, sans-serif" font-size="46" fill="#000" fill-opacity="0.2">FFQ.LA Public Test Center</text></svg>
</body></html>
